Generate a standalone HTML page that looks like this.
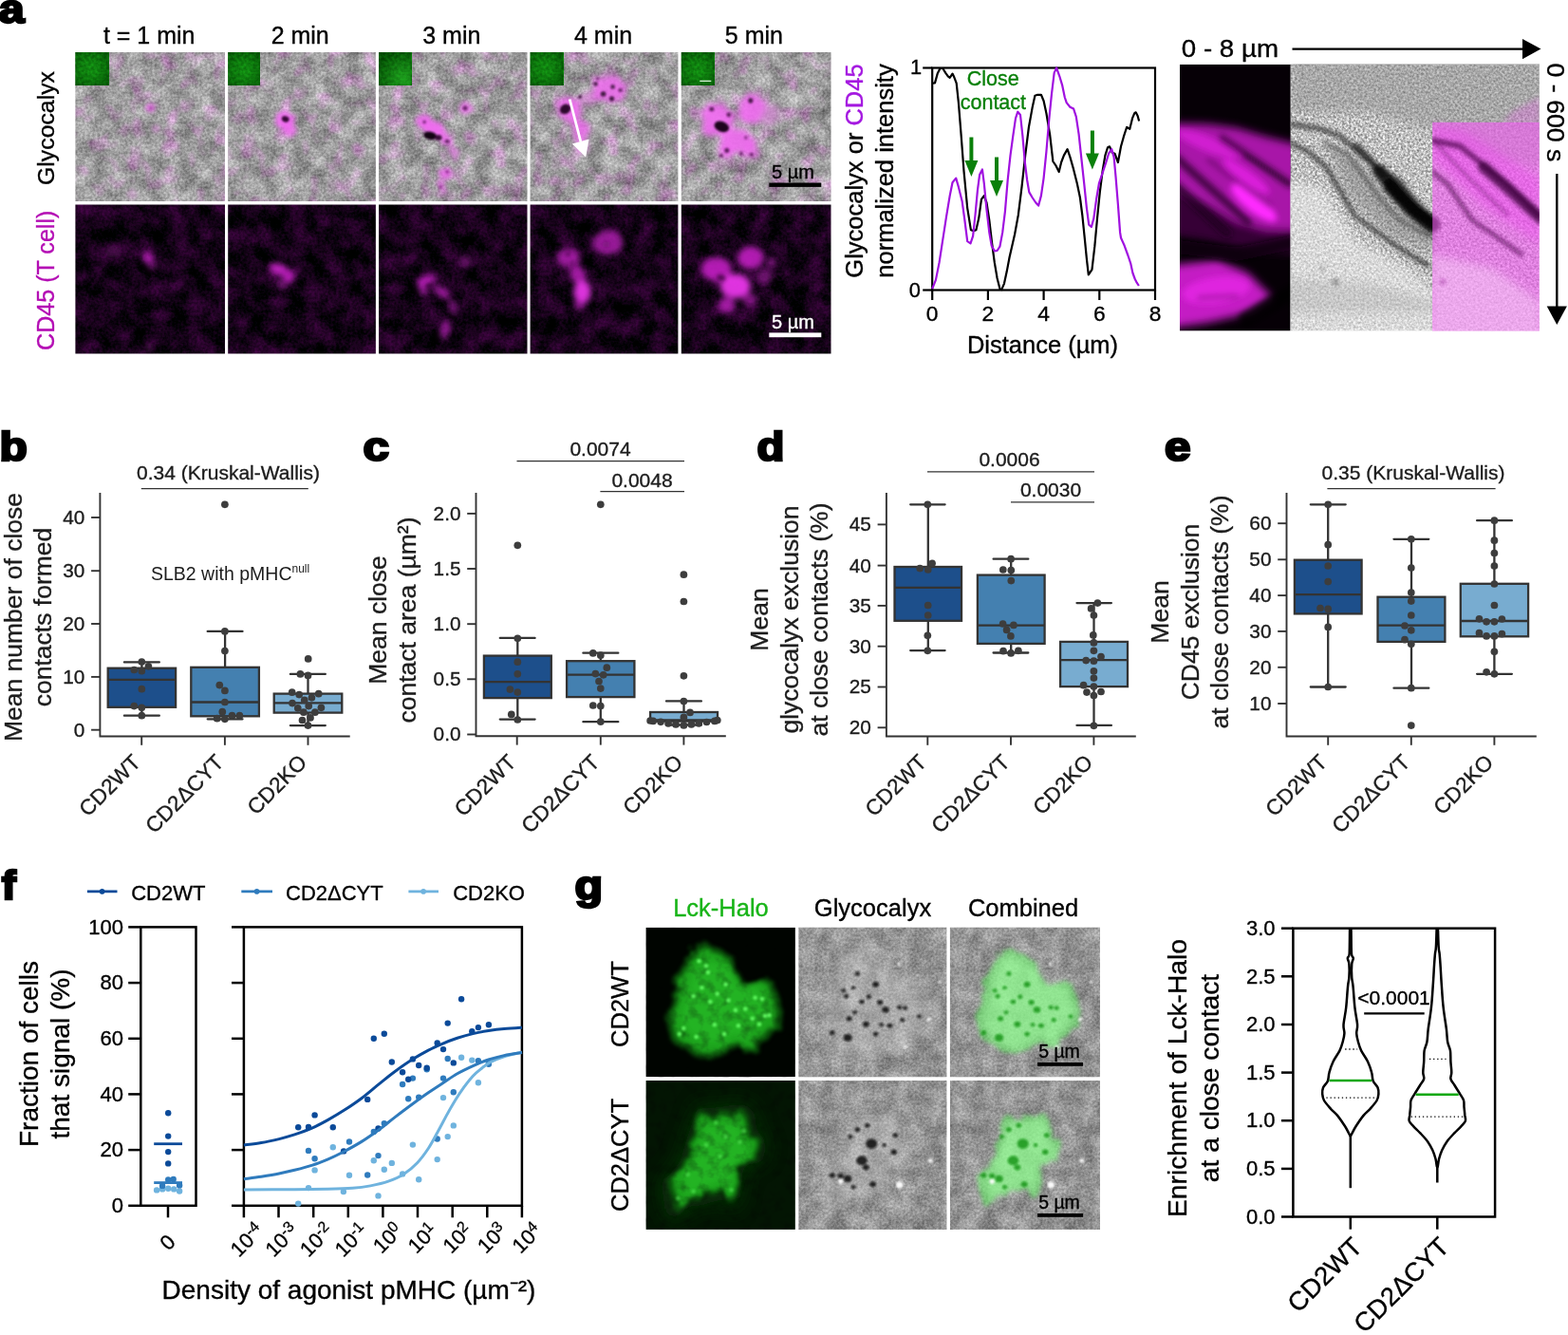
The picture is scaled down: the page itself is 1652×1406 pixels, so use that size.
<!DOCTYPE html>
<html lang="en"><head><meta charset="utf-8"><title>Figure</title>
<style>
html,body{margin:0;padding:0;background:#fff;}
body{width:1652px;height:1406px;overflow:hidden;}
svg{display:block;font-family:"Liberation Sans",Arial,Helvetica,sans-serif;}
</style></head><body>
<svg width="1652" height="1406" viewBox="0 0 1652 1406">
<rect width="1652" height="1406" fill="#fff"/>
<defs>
<filter id="ngray" x="0" y="0" width="100%" height="100%" color-interpolation-filters="sRGB">
  <feTurbulence type="fractalNoise" baseFrequency="0.055" numOctaves="2" seed="7" result="a0"/>
  <feColorMatrix in="a0" type="matrix" values="1 0 0 0 0  0 1 0 0 0  0 0 0 0 0  0 0 0 0 1" result="a"/>
  <feTurbulence type="fractalNoise" baseFrequency="0.38" numOctaves="2" seed="8" result="b0"/>
  <feColorMatrix in="b0" type="matrix" values="1 0 0 0 0  0 0 0 0 0.5  0 0 0 0 0  0 0 0 0 1" result="b"/>
  <feComposite in="a" in2="b" operator="arithmetic" k1="0" k2="0.55" k3="0.45" k4="0" result="n"/>
  <feColorMatrix in="n" type="matrix" values="0.85 0 0 0 0.19  0 1.6 0 0 -0.8  0 0 0 0 0  0 0 0 0 1" result="m"/>
  <feColorMatrix in="m" type="matrix" values="1 0.4 0 0 0  1 -0.22 0 0 0  1 0.4 0 0 0  0 0 0 0 1"/>
</filter>
<filter id="ndark" x="0" y="0" width="100%" height="100%" color-interpolation-filters="sRGB">
  <feTurbulence type="fractalNoise" baseFrequency="0.05" numOctaves="2" seed="5" result="a0"/>
  <feColorMatrix in="a0" type="matrix" values="1 0 0 0 0  0 0 0 0 0  0 0 0 0 0  0 0 0 0 1" result="a"/>
  <feTurbulence type="fractalNoise" baseFrequency="0.35" numOctaves="2" seed="6" result="b0"/>
  <feColorMatrix in="b0" type="matrix" values="1 0 0 0 0  0 0 0 0 0  0 0 0 0 0  0 0 0 0 1" result="b"/>
  <feComposite in="a" in2="b" operator="arithmetic" k1="0" k2="0.65" k3="0.35" k4="0" result="n"/>
  <feColorMatrix in="n" type="matrix" values="0.62 0 0 0 -0.225  0.03 0 0 0 -0.005  0.62 0 0 0 -0.215  0 0 0 0 1"/>
</filter>
<filter id="ngreen" x="0" y="0" width="100%" height="100%" color-interpolation-filters="sRGB">
  <feTurbulence type="fractalNoise" baseFrequency="0.3" numOctaves="2" seed="2"/>
  <feColorMatrix type="matrix" values="0.1 0 0 0 -0.03  0.45 0 0 0 0.22  0.1 0 0 0 -0.03  0 0 0 0 1"/>
</filter>
<filter id="ngray2" x="0" y="0" width="100%" height="100%" color-interpolation-filters="sRGB">
  <feTurbulence type="fractalNoise" baseFrequency="0.06" numOctaves="2" seed="17" result="a0"/>
  <feColorMatrix in="a0" type="matrix" values="1 0 0 0 0  0 0 0 0 0  0 0 0 0 0  0 0 0 0 1" result="a"/>
  <feTurbulence type="fractalNoise" baseFrequency="0.4" numOctaves="2" seed="18" result="b0"/>
  <feColorMatrix in="b0" type="matrix" values="1 0 0 0 0  0 0 0 0 0  0 0 0 0 0  0 0 0 0 1" result="b"/>
  <feComposite in="a" in2="b" operator="arithmetic" k1="0" k2="0.5" k3="0.5" k4="0" result="n"/>
  <feColorMatrix in="n" type="matrix" values="0.85 0 0 0 0.145  0.85 0 0 0 0.145  0.85 0 0 0 0.145  0 0 0 0 1"/>
</filter>
<filter id="ngtex" x="0" y="0" width="100%" height="100%" color-interpolation-filters="sRGB">
  <feTurbulence type="fractalNoise" baseFrequency="0.09" numOctaves="3" seed="31"/>
  <feColorMatrix type="matrix" values="1.4 0 0 0 0.2  1.4 0 0 0 0.2  1.4 0 0 0 0.2  0 0 0 0 1"/>
</filter>
<filter id="b9" x="-50%" y="-50%" width="200%" height="200%"><feGaussianBlur stdDeviation="9"/></filter>
<linearGradient id="vband" x1="0" x2="1" y1="0" y2="0">
  <stop offset="0" stop-color="#888" stop-opacity="0.5"/><stop offset="0.12" stop-color="#bbb" stop-opacity="0.4"/>
  <stop offset="0.25" stop-color="#808080" stop-opacity="0.5"/><stop offset="0.4" stop-color="#c0c0c0" stop-opacity="0.4"/>
  <stop offset="0.55" stop-color="#909090" stop-opacity="0.4"/><stop offset="0.7" stop-color="#c0c0c0" stop-opacity="0.4"/>
  <stop offset="0.85" stop-color="#808080" stop-opacity="0.5"/><stop offset="1" stop-color="#aaa" stop-opacity="0.4"/>
</linearGradient>
<filter id="nkym" x="0" y="0" width="100%" height="100%" color-interpolation-filters="sRGB">
  <feTurbulence type="fractalNoise" baseFrequency="0.42" numOctaves="2" seed="21"/>
  <feColorMatrix type="matrix" values="0.9 0 0 0 0.30  0.9 0 0 0 0.30  0.9 0 0 0 0.30  0 0 0 0 1"/>
</filter>
<radialGradient id="ginset0" cx="0.45" cy="0.5" r="0.75"><stop offset="0" stop-color="#30d030" stop-opacity="0.28"/><stop offset="1" stop-color="#002000" stop-opacity="0.45"/></radialGradient>
<radialGradient id="ginset1" cx="0.5" cy="0.55" r="0.75"><stop offset="0" stop-color="#30d030" stop-opacity="0.28"/><stop offset="1" stop-color="#002000" stop-opacity="0.45"/></radialGradient>
<radialGradient id="ginset2" cx="0.75" cy="0.8" r="0.9"><stop offset="0" stop-color="#40e040" stop-opacity="0.4"/><stop offset="1" stop-color="#002000" stop-opacity="0.45"/></radialGradient>
<filter id="r2" x="-40%" y="-40%" width="180%" height="180%" color-interpolation-filters="sRGB">
  <feTurbulence type="fractalNoise" baseFrequency="0.12" numOctaves="2" seed="9" result="t"/>
  <feDisplacementMap in="SourceGraphic" in2="t" scale="9" xChannelSelector="R" yChannelSelector="G"/>
  <feGaussianBlur stdDeviation="2.4"/>
  <feOffset dx="0.8" dy="0.4"/>
</filter>
<filter id="r3" x="-40%" y="-40%" width="180%" height="180%" color-interpolation-filters="sRGB">
  <feTurbulence type="fractalNoise" baseFrequency="0.09" numOctaves="2" seed="4" result="t"/>
  <feDisplacementMap in="SourceGraphic" in2="t" scale="12" xChannelSelector="R" yChannelSelector="G"/>
  <feGaussianBlur stdDeviation="3.2"/>
  <feOffset dx="0.5" dy="0.7"/>
</filter>
<filter id="b1" x="-50%" y="-50%" width="200%" height="200%"><feGaussianBlur stdDeviation="1.3"/></filter>
<filter id="b2" x="-30%" y="-30%" width="160%" height="160%"><feGaussianBlur stdDeviation="2"/></filter>
<filter id="b3" x="-30%" y="-30%" width="160%" height="160%"><feGaussianBlur stdDeviation="3"/></filter>
<filter id="b5" x="-30%" y="-30%" width="160%" height="160%"><feGaussianBlur stdDeviation="5"/></filter>
<filter id="rough3" x="-30%" y="-30%" width="160%" height="160%" color-interpolation-filters="sRGB">
  <feTurbulence type="fractalNoise" baseFrequency="0.08" numOctaves="2" seed="4" result="t"/>
  <feDisplacementMap in="SourceGraphic" in2="t" scale="14" xChannelSelector="R" yChannelSelector="G"/>
  <feGaussianBlur stdDeviation="2.2"/>
</filter>
<filter id="rough2" x="-30%" y="-30%" width="160%" height="160%" color-interpolation-filters="sRGB">
  <feTurbulence type="fractalNoise" baseFrequency="0.1" numOctaves="2" seed="9" result="t"/>
  <feDisplacementMap in="SourceGraphic" in2="t" scale="10" xChannelSelector="R" yChannelSelector="G"/>
  <feGaussianBlur stdDeviation="1.4"/>
</filter>
</defs>
<g id="panel-a">
<text transform="translate(-1.2 23.7) scale(1.1 0.95)" font-size="44" font-weight="bold" stroke="#000" stroke-width="2.6" stroke-linejoin="miter">a</text>
<text font-size="25" text-anchor="middle" stroke="#000" stroke-width="0.35" x="157.2" y="46">t = 1 min</text>
<text font-size="25" text-anchor="middle" stroke="#000" stroke-width="0.35" x="316.2" y="46">2 min</text>
<text font-size="25" text-anchor="middle" stroke="#000" stroke-width="0.35" x="475.8" y="46">3 min</text>
<text font-size="25" text-anchor="middle" stroke="#000" stroke-width="0.35" x="635.6" y="46">4 min</text>
<text font-size="25" text-anchor="middle" stroke="#000" stroke-width="0.35" x="794.4" y="46">5 min</text>
<text font-size="24.8" text-anchor="middle" stroke="#000" stroke-width="0.35" transform="translate(56.7 135) rotate(-90)">Glycocalyx</text>
<text font-size="25.1" text-anchor="middle" fill="#b40eb4" stroke="#b40eb4" stroke-width="0.35" transform="translate(56.7 295.3) rotate(-90)">CD45 (T cell)</text>
<svg x="79.4" y="54.9" width="157.6" height="157.2" viewBox="0 0 157.6 157.2" overflow="hidden">
<rect x="0" y="0" width="327.6" height="217.2" transform="translate(0 0)" filter="url(#ngray)"/>
<g filter="url(#b2)" ><ellipse cx="79" cy="58.6" rx="5.5" ry="5" fill="#e868e8" opacity="0.75"/><ellipse cx="85" cy="80.7" rx="4.5" ry="4" fill="#e888e8" opacity="0.5"/><ellipse cx="60" cy="150" rx="5" ry="5" fill="#e090e0" opacity="0.4"/><ellipse cx="150" cy="52" rx="5" ry="4" fill="#666" opacity="0.45"/></g><g filter="url(#b1)" ><ellipse cx="79.5" cy="59" rx="1.8" ry="1.5" fill="#903090" opacity="0.7"/></g>
<rect x="0" y="0" width="35.1" height="35" filter="url(#ngreen)"/>
<rect x="0" y="0" width="35.1" height="35" fill="url(#ginset0)"/>
</svg>
<svg x="79.4" y="215.4" width="157.6" height="157.2" viewBox="0 0 157.6 157.2" overflow="hidden">
<rect x="0" y="0" width="327.6" height="217.2" transform="translate(0 0)" filter="url(#ndark)"/>
<g filter="url(#b3)" ><ellipse cx="76.5" cy="56" rx="5.5" ry="7" fill="#cc22cc" opacity="0.8" transform="rotate(-30 76.5 56)"/><ellipse cx="81" cy="65" rx="4" ry="4" fill="#cc22cc" opacity="0.5"/><ellipse cx="40" cy="50" rx="9" ry="7" fill="#701070" opacity="0.35"/><ellipse cx="78" cy="150" rx="5" ry="6" fill="#801080" opacity="0.45"/></g>
</svg>
<svg x="240.2" y="54.9" width="155.7" height="157.2" viewBox="0 0 155.7 157.2" overflow="hidden">
<rect x="0" y="0" width="325.7" height="217.2" transform="translate(-41 -13)" filter="url(#ngray)"/>
<g filter="url(#r2)" ><ellipse cx="59" cy="72" rx="11" ry="10" fill="#f26cf2" opacity="0.95"/><ellipse cx="64" cy="81" rx="6.5" ry="6.5" fill="#f26cf2" opacity="0.8"/><ellipse cx="52" cy="70" rx="5" ry="5" fill="#f080f0" opacity="0.6"/></g><g filter="url(#b1)" ><ellipse cx="60.5" cy="70.5" rx="4" ry="3.2" fill="#2a002a" opacity="0.95" transform="rotate(20 60.5 70.5)"/></g>
<rect x="0" y="0" width="33.6" height="35" filter="url(#ngreen)"/>
<rect x="0" y="0" width="33.6" height="35" fill="url(#ginset1)"/>
</svg>
<svg x="240.2" y="215.4" width="155.7" height="157.2" viewBox="0 0 155.7 157.2" overflow="hidden">
<rect x="0" y="0" width="325.7" height="217.2" transform="translate(-37 -14)" filter="url(#ndark)"/>
<g filter="url(#b3)" ><ellipse cx="53" cy="68" rx="10" ry="6" fill="#cc22cc" opacity="0.9" transform="rotate(15 53 68)"/><ellipse cx="64" cy="76" rx="6" ry="7" fill="#cc22cc" opacity="0.85"/><ellipse cx="57" cy="84" rx="5" ry="6" fill="#a020a0" opacity="0.6"/></g>
</svg>
<svg x="399.1" y="54.9" width="156.4" height="157.2" viewBox="0 0 156.4 157.2" overflow="hidden">
<rect x="0" y="0" width="326.4" height="217.2" transform="translate(-82 -26)" filter="url(#ngray)"/>
<g filter="url(#r2)" ><ellipse cx="55" cy="80" rx="14" ry="9" fill="#f26cf2" opacity="0.95" transform="rotate(25 55 80)"/><ellipse cx="46" cy="72" rx="8" ry="7" fill="#f26cf2" opacity="0.85"/><ellipse cx="70" cy="93" rx="7" ry="6" fill="#f26cf2" opacity="0.85" transform="rotate(50 70 93)"/><ellipse cx="79" cy="106" rx="4" ry="9" fill="#f080f0" opacity="0.7" transform="rotate(-15 79 106)"/><ellipse cx="69" cy="128" rx="5.5" ry="7" fill="#f26cf2" opacity="0.85"/><ellipse cx="65" cy="141" rx="4.5" ry="5" fill="#f26cf2" opacity="0.8"/><ellipse cx="91" cy="59" rx="7" ry="7" fill="#ee70ee" opacity="0.8"/></g><g filter="url(#b1)" ><ellipse cx="54" cy="88" rx="7" ry="4.2" fill="#120012" opacity="0.97" transform="rotate(10 54 88)"/><ellipse cx="63" cy="90" rx="3.5" ry="3" fill="#2a002a" opacity="0.9"/><ellipse cx="72" cy="94" rx="2.5" ry="2.2" fill="#501050" opacity="0.8"/><ellipse cx="91" cy="59" rx="2.6" ry="2.4" fill="#5a105a" opacity="0.85"/><ellipse cx="48" cy="73.5" rx="2" ry="2" fill="#702070" opacity="0.8"/><ellipse cx="72" cy="126" rx="2" ry="2" fill="#802080" opacity="0.7"/><ellipse cx="65" cy="142" rx="1.8" ry="1.8" fill="#802080" opacity="0.7"/></g>
<rect x="0" y="0" width="34.2" height="35" filter="url(#ngreen)"/>
<rect x="0" y="0" width="34.2" height="35" fill="url(#ginset2)"/>
</svg>
<svg x="399.1" y="215.4" width="156.4" height="157.2" viewBox="0 0 156.4 157.2" overflow="hidden">
<rect x="0" y="0" width="326.4" height="217.2" transform="translate(-74 -28)" filter="url(#ndark)"/>
<g filter="url(#b3)" ><ellipse cx="50" cy="80" rx="11" ry="5" fill="#cc22cc" opacity="0.8" transform="rotate(-20 50 80)"/><ellipse cx="47" cy="88" rx="5" ry="8" fill="#cc22cc" opacity="0.65"/><ellipse cx="66" cy="92" rx="10" ry="4.5" fill="#cc22cc" opacity="0.75" transform="rotate(35 66 92)"/><ellipse cx="78" cy="108" rx="4" ry="9" fill="#cc22cc" opacity="0.6" transform="rotate(-15 78 108)"/><ellipse cx="70" cy="132" rx="5" ry="10" fill="#cc22cc" opacity="0.65" transform="rotate(15 70 132)"/><ellipse cx="91" cy="59.8" rx="6" ry="6" fill="#b020b0" opacity="0.6"/></g><g filter="url(#b2)" ><ellipse cx="53" cy="86" rx="4" ry="2.6" fill="#300030" opacity="0.8"/><ellipse cx="91" cy="60" rx="2" ry="2" fill="#400040" opacity="0.6"/></g>
</svg>
<svg x="558.6" y="54.9" width="155.8" height="157.2" viewBox="0 0 155.8 157.2" overflow="hidden">
<rect x="0" y="0" width="325.8" height="217.2" transform="translate(-123 -39)" filter="url(#ngray)"/>
<g filter="url(#r3)" ><ellipse cx="41" cy="60" rx="13" ry="13" fill="#f26cf2" opacity="0.9"/><ellipse cx="52" cy="82" rx="9" ry="13" fill="#f26cf2" opacity="0.8" transform="rotate(-15 52 82)"/><ellipse cx="54" cy="98" rx="8" ry="9" fill="#f080f0" opacity="0.65"/><ellipse cx="82" cy="38" rx="19" ry="14" fill="#f26cf2" opacity="0.85"/><ellipse cx="60" cy="48" rx="8" ry="7" fill="#f080f0" opacity="0.6"/></g><g filter="url(#b1)" ><ellipse cx="37" cy="60" rx="6" ry="5" fill="#1c001c" opacity="0.92" transform="rotate(-30 37 60)"/><ellipse cx="52.5" cy="47" rx="2.2" ry="2.2" fill="#401040" opacity="0.9"/><ellipse cx="69" cy="33.5" rx="2.4" ry="2.4" fill="#401040" opacity="0.85"/><ellipse cx="77" cy="44" rx="2.8" ry="2.6" fill="#300830" opacity="0.9"/><ellipse cx="86" cy="49" rx="2.6" ry="2.6" fill="#380838" opacity="0.9"/><ellipse cx="87" cy="36.5" rx="2.4" ry="2.4" fill="#401040" opacity="0.85"/><ellipse cx="95" cy="40" rx="2.2" ry="2.2" fill="#501050" opacity="0.8"/><ellipse cx="71" cy="28" rx="1.8" ry="1.8" fill="#602060" opacity="0.7"/></g>
<rect x="0" y="0" width="34.5" height="35" filter="url(#ngreen)"/>
<rect x="0" y="0" width="34.5" height="35" fill="url(#ginset0)"/>
</svg>
<svg x="558.6" y="215.4" width="155.8" height="157.2" viewBox="0 0 155.8 157.2" overflow="hidden">
<rect x="0" y="0" width="325.8" height="217.2" transform="translate(-111 -42)" filter="url(#ndark)"/>
<g filter="url(#b3)" ><ellipse cx="40" cy="56" rx="12" ry="10" fill="#cc22cc" opacity="0.75"/><ellipse cx="50" cy="74" rx="8" ry="10" fill="#cc22cc" opacity="0.75" transform="rotate(-20 50 74)"/><ellipse cx="55" cy="92" rx="9" ry="12" fill="#f038f0" opacity="0.9"/><ellipse cx="82" cy="40" rx="16" ry="13" fill="#cc22cc" opacity="0.7"/><ellipse cx="52" cy="106" rx="6" ry="6" fill="#cc22cc" opacity="0.6"/></g><g filter="url(#b2)" ><ellipse cx="40" cy="52" rx="2.6" ry="2.6" fill="#400040" opacity="0.75"/><ellipse cx="44" cy="62" rx="2.4" ry="2.4" fill="#400040" opacity="0.7"/><ellipse cx="80" cy="42" rx="4" ry="3.5" fill="#601060" opacity="0.55"/></g>
</svg>
<svg x="717.8" y="54.9" width="157.7" height="157.2" viewBox="0 0 157.7 157.2" overflow="hidden">
<rect x="0" y="0" width="327.7" height="217.2" transform="translate(-164 -52)" filter="url(#ngray)"/>
<g filter="url(#r3)" ><ellipse cx="38" cy="70" rx="19" ry="17" fill="#f26cf2" opacity="0.92"/><ellipse cx="73" cy="58" rx="14" ry="15" fill="#f26cf2" opacity="0.9"/><ellipse cx="57" cy="94" rx="19" ry="14" fill="#f26cf2" opacity="0.9"/><ellipse cx="92" cy="64" rx="10" ry="13" fill="#f090f0" opacity="0.6"/><ellipse cx="46" cy="104" rx="9" ry="8" fill="#f26cf2" opacity="0.75"/><ellipse cx="74" cy="104" rx="8" ry="8" fill="#f26cf2" opacity="0.75"/></g><g filter="url(#b1)" ><ellipse cx="42.5" cy="78.5" rx="8" ry="5.5" fill="#140014" opacity="0.97" transform="rotate(20 42.5 78.5)"/><ellipse cx="32" cy="60" rx="2.6" ry="2.4" fill="#501050" opacity="0.85"/><ellipse cx="50" cy="66" rx="2.4" ry="2.4" fill="#501050" opacity="0.85"/><ellipse cx="73" cy="51" rx="2.6" ry="2.8" fill="#401040" opacity="0.9"/><ellipse cx="48" cy="103.5" rx="2.6" ry="2.6" fill="#501050" opacity="0.85"/><ellipse cx="42" cy="109" rx="2.2" ry="2.2" fill="#601060" opacity="0.8"/><ellipse cx="63" cy="107" rx="2.2" ry="2.2" fill="#601060" opacity="0.8"/><ellipse cx="74" cy="108" rx="2.2" ry="2.2" fill="#601060" opacity="0.8"/><ellipse cx="68" cy="90" rx="2" ry="2" fill="#702070" opacity="0.7"/></g>
<rect x="0" y="0" width="34.5" height="35" filter="url(#ngreen)"/>
<rect x="0" y="0" width="34.5" height="35" fill="url(#ginset1)"/>
</svg>
<svg x="717.8" y="215.4" width="157.7" height="157.2" viewBox="0 0 157.7 157.2" overflow="hidden">
<rect x="0" y="0" width="327.7" height="217.2" transform="translate(-148 -56)" filter="url(#ndark)"/>
<g filter="url(#b3)" ><ellipse cx="37" cy="68" rx="16" ry="13" fill="#cc22cc" opacity="0.85"/><ellipse cx="73" cy="56" rx="14" ry="12" fill="#cc22cc" opacity="0.85"/><ellipse cx="57" cy="86" rx="16" ry="13" fill="#f038f0" opacity="0.92"/><ellipse cx="48" cy="106" rx="9" ry="8" fill="#cc22cc" opacity="0.75"/><ellipse cx="95" cy="61" rx="3.5" ry="5" fill="#cc22cc" opacity="0.8"/><ellipse cx="88" cy="76" rx="8" ry="8" fill="#b020b0" opacity="0.5"/><ellipse cx="72" cy="100" rx="8" ry="7" fill="#cc22cc" opacity="0.6"/></g><g filter="url(#b2)" ><ellipse cx="42" cy="77" rx="5" ry="3" fill="#300030" opacity="0.85" transform="rotate(15 42 77)"/></g>
</svg>
<rect x="810.3" y="192.5" width="55" height="4.4" fill="#000" />
<text font-size="20" text-anchor="middle" stroke="#000" stroke-width="0.35" x="835.5" y="187.8">5 µm</text>
<rect x="810.3" y="350.4" width="55" height="4.8" fill="#fff" />
<text font-size="20" text-anchor="middle" fill="#fff" stroke="#fff" stroke-width="0.35" x="835.5" y="346.1">5 µm</text>
<rect x="737.3" y="84.7" width="12" height="1.3" fill="#d8f0d8" />
<path d="M600.2 104.5 L611.8 149" stroke="#fff" stroke-width="2.8" fill="none"/>
<path d="M617.2 165.5 L602.8 151.5 L620.6 146.6 Z" fill="#fff"/>
</g>
<g id="lineplot">
<rect x="982.2" y="71.5" width="234.79999999999995" height="234.0" fill="none" stroke="#000" stroke-width="2.2"/>
<line x1="982.2" y1="305.5" x2="982.2" y2="316.0" stroke="#000" stroke-width="2.2" />
<text font-size="22.8" text-anchor="middle" stroke="#000" stroke-width="0.35" x="982.2" y="337.6">0</text>
<line x1="1040.9" y1="305.5" x2="1040.9" y2="316.0" stroke="#000" stroke-width="2.2" />
<text font-size="22.8" text-anchor="middle" stroke="#000" stroke-width="0.35" x="1040.9" y="337.6">2</text>
<line x1="1099.6" y1="305.5" x2="1099.6" y2="316.0" stroke="#000" stroke-width="2.2" />
<text font-size="22.8" text-anchor="middle" stroke="#000" stroke-width="0.35" x="1099.6" y="337.6">4</text>
<line x1="1158.3" y1="305.5" x2="1158.3" y2="316.0" stroke="#000" stroke-width="2.2" />
<text font-size="22.8" text-anchor="middle" stroke="#000" stroke-width="0.35" x="1158.3" y="337.6">6</text>
<line x1="1217.0" y1="305.5" x2="1217.0" y2="316.0" stroke="#000" stroke-width="2.2" />
<text font-size="22.8" text-anchor="middle" stroke="#000" stroke-width="0.35" x="1217.0" y="337.6">8</text>
<line x1="972.2" y1="71.5" x2="982.2" y2="71.5" stroke="#000" stroke-width="2.2" />
<line x1="972.2" y1="305.5" x2="982.2" y2="305.5" stroke="#000" stroke-width="2.2" />
<text font-size="21.8" text-anchor="end" stroke="#000" stroke-width="0.35" x="971.0" y="77.9">1</text>
<text font-size="21.8" text-anchor="end" stroke="#000" stroke-width="0.35" x="969.8" y="312.8">0</text>
<text font-size="25.5" text-anchor="middle" stroke="#000" stroke-width="0.35" x="1098.5" y="372">Distance (µm)</text>
<text transform="translate(909 180) rotate(-90)" font-size="25.5" text-anchor="middle" stroke="#000" stroke-width="0.35">Glycocalyx or <tspan fill="#a418e0" stroke="#a418e0">CD45</tspan></text>
<text font-size="25.5" text-anchor="middle" stroke="#000" stroke-width="0.35" transform="translate(940.5 180) rotate(-90)">normalized intensity</text>
<path d="M982.2 87.7 L985.0 87.4 L987.7 77.6 L990.5 72.0 L993.3 72.0 L996.1 76.6 L998.8 80.3 L1000.7 81.8 L1003.5 77.6 L1005.3 81.3 L1007.7 87.7 L1009.9 108.1 L1012.7 143.2 L1015.5 180.2 L1019.2 219.1 L1022.9 242.2 L1025.7 243.1 L1028.4 242.2 L1031.2 230.1 L1034.0 209.8 L1036.8 206.1 L1039.5 213.5 L1042.3 232.0 L1045.1 256.0 L1047.8 276.4 L1050.6 293.0 L1053.4 304.1 L1055.2 305.1 L1058.0 298.6 L1060.8 285.6 L1063.6 270.8 L1069.1 246.8 L1072.8 226.5 L1076.5 196.9 L1080.2 163.6 L1083.9 134.0 L1087.6 113.6 L1090.4 100.7 L1093.2 99.8 L1096.9 99.8 L1099.6 106.2 L1102.4 119.2 L1106.1 141.4 L1109.4 170.0 L1112.6 174.7 L1115.7 181.1 L1118.1 171.0 L1120.9 163.6 L1124.6 157.1 L1127.4 165.4 L1131.1 178.4 L1134.8 193.2 L1137.9 208.0 L1140.3 226.5 L1143.1 254.2 L1144.9 272.7 L1146.8 289.3 L1150.5 283.8 L1153.3 259.7 L1156.0 230.1 L1158.8 202.4 L1161.6 180.2 L1164.4 163.6 L1167.1 155.2 L1169.0 154.3 L1171.8 160.8 L1174.5 161.7 L1177.9 171.0 L1181.0 154.3 L1183.8 144.2 L1187.1 134.0 L1190.3 135.8 L1193.0 124.7 L1195.3 119.2 L1196.7 118.3 L1198.6 122.0 L1200.1 127.5" fill="none" stroke="#000" stroke-width="2.2" stroke-linejoin="round" />
<path d="M982.2 304.1 L985.9 294.9 L989.6 276.4 L993.3 252.3 L997.0 228.3 L1000.7 206.1 L1003.5 192.2 L1007.2 187.6 L1009.9 196.9 L1013.6 211.7 L1016.4 232.0 L1019.2 254.2 L1022.5 256.4 L1025.1 248.6 L1027.5 226.5 L1029.9 200.6 L1032.1 183.9 L1034.9 178.4 L1036.8 193.2 L1039.5 220.9 L1042.3 244.9 L1044.7 258.8 L1047.8 264.4 L1050.6 264.0 L1053.4 259.7 L1056.2 244.9 L1058.9 222.8 L1061.7 189.5 L1064.5 163.6 L1067.3 143.2 L1070.0 124.7 L1072.3 117.7 L1075.0 121.0 L1077.4 143.2 L1079.8 171.0 L1082.1 189.5 L1084.3 202.4 L1087.6 208.0 L1091.3 213.5 L1094.1 216.6 L1096.9 206.1 L1099.6 187.6 L1102.4 159.9 L1105.2 126.6 L1108.0 98.8 L1110.7 76.6 L1113.1 71.5 L1116.3 80.3 L1119.1 89.6 L1121.8 102.5 L1123.7 108.1 L1127.4 112.7 L1131.1 114.6 L1133.8 122.9 L1136.6 141.4 L1139.4 167.3 L1142.2 193.2 L1144.9 219.1 L1147.2 236.6 L1149.9 239.0 L1152.3 230.1 L1155.1 209.8 L1157.9 193.2 L1161.6 182.1 L1165.3 171.0 L1168.1 161.7 L1171.2 157.1 L1173.6 165.4 L1175.5 185.8 L1177.9 215.4 L1180.1 244.9 L1181.0 250.5 L1184.7 258.8 L1188.4 269.0 L1191.2 277.3 L1193.4 287.5 L1195.8 294.0 L1197.7 297.7 L1199.9 301.0" fill="none" stroke="#a010e0" stroke-width="2.2" stroke-linejoin="round" />
<text font-size="21.5" text-anchor="middle" fill="#0a800a" stroke="#0a800a" stroke-width="0.35" x="1046.2" y="89.8">Close</text>
<text font-size="21.5" text-anchor="middle" fill="#0a800a" stroke="#0a800a" stroke-width="0.35" x="1046.4" y="115.3">contact</text>
<path d="M1023.4 144.5 V170" stroke="#0a800a" stroke-width="4" fill="none"/><path d="M1016.4 169 H1030.4 L1023.4 186 Z" fill="#0a800a"/>
<path d="M1050.0 165.5 V191" stroke="#0a800a" stroke-width="4" fill="none"/><path d="M1043.0 190 H1057.0 L1050.0 207 Z" fill="#0a800a"/>
<path d="M1150.9 137.5 V162.5" stroke="#0a800a" stroke-width="4" fill="none"/><path d="M1143.9 161.5 H1157.9 L1150.9 178.5 Z" fill="#0a800a"/>
</g>
<g id="kymo">
<text font-size="26.7" stroke="#000" stroke-width="0.35" textLength="102.2" lengthAdjust="spacingAndGlyphs" x="1244.8" y="60.3">0 - 8 µm</text>
<line x1="1361.5" y1="51.6" x2="1606" y2="51.6" stroke="#000" stroke-width="2.4" />
<path d="M1604 41 L1623.5 51.6 L1604 62.2 Z" fill="#000"/>
<text font-size="26.7" stroke="#000" stroke-width="0.35" transform="translate(1629.9 66.6) rotate(90)">0 - 600 s</text>
<line x1="1640.3" y1="183" x2="1640.3" y2="324" stroke="#000" stroke-width="2.4" />
<path d="M1629.7 322.5 L1640.3 342 L1650.9 322.5 Z" fill="#000"/>
<svg x="1243.0" y="67.8" width="378.8" height="280.8" viewBox="0 0 378.8 280.8" overflow="hidden">
<clipPath id="ck1"><rect x="0" y="0" width="116.8" height="280.8"/></clipPath>
<clipPath id="ck2"><rect x="116.8" y="0" width="262.0" height="280.8"/></clipPath>
<clipPath id="ck3"><rect x="266.2" y="0" width="112.60000000000002" height="280.8"/></clipPath>
<rect x="0" y="0" width="116.8" height="280.8" fill="#060006" />
<g clip-path="url(#ck1)"><g filter="url(#b5)"><path d="M-12 62 L30 63 L60 67 L90 76 L130 86 L130 176 L90 174 L60 166 L30 148 L-12 128 Z" fill="#a812a8"/><path d="M-12 128 L30 148 L60 166 L90 174 L130 178 L130 200 L70 196 L30 186 L-12 180 Z" fill="#3a033a" opacity="0.9"/><path d="M-12 212 L40 206 L72 220 L98 246 L74 262 L30 272 L-12 278 Z" fill="#c41ac4"/></g><g filter="url(#b3)" fill="none" stroke-linecap="round"><ellipse cx="78" cy="146" rx="30" ry="9" fill="#ff2cff" stroke="none" transform="rotate(38 78 146)"/><ellipse cx="70" cy="118" rx="30" ry="7" fill="#e422e4" stroke="none" opacity="0.85" transform="rotate(36 70 118)"/><ellipse cx="30" cy="84" rx="36" ry="8" fill="#d81cd8" stroke="none" opacity="0.85" transform="rotate(22 30 84)"/><ellipse cx="38" cy="238" rx="36" ry="14" fill="#e426e4" stroke="none" opacity="0.85" transform="rotate(-8 38 238)"/><path d="M44 78 L116 126" stroke="#1c001c" stroke-width="7" opacity="0.8"/><path d="M-4 98 L72 166" stroke="#260026" stroke-width="8" opacity="0.8"/><path d="M30 100 L96 150" stroke="#500850" stroke-width="3.5" opacity="0.7"/><path d="M-4 128 L50 178" stroke="#180018" stroke-width="9" opacity="0.75"/><path d="M-4 192 L60 200 L117 188" stroke="#080008" stroke-width="15" opacity="0.85"/><path d="M70 268 L117 240" stroke="#080008" stroke-width="16" opacity="0.8"/><path d="M20 246 L60 244" stroke="#701070" stroke-width="4" opacity="0.6"/></g></g>
<g clip-path="url(#ck2)">
<rect x="116.8" y="0" width="262.0" height="280.8" filter="url(#nkym)"/>
<g filter="url(#b5)"><path d="M117 -10 L390 -10 L390 110 L330 100 L270 70 L200 50 L117 50 Z" fill="#8c8c8c" opacity="0.45"/><path d="M110 120 L150 130 L185 185 L240 215 L270 240 L270 300 L110 300 Z" fill="#f4f4f4" opacity="0.5"/><path d="M110 225 L200 230 L270 250 L270 262 L110 262 Z" fill="#9a9a9a" opacity="0.28"/><path d="M150 80 L190 100 L230 150 L266 170 L266 200 L220 180 L180 140 Z" fill="#707070" opacity="0.4"/></g>
<g filter="url(#b2)" fill="none" stroke-linecap="round" stroke-linejoin="round"><path d="M117 63 L149 68 L169 75.5 L189 93 L207 108 L232 123 L247 143 L268 164" stroke="#2a2a2a" stroke-width="5" opacity="0.75"/><path d="M117 83 L134 91 L154 108 L169 133 L184 159 L207 176 L232 194 L262 212" stroke="#262626" stroke-width="4.5" opacity="0.8"/><path d="M154 83 L174 93 L194 118 L212 143 L232 164 L268 184" stroke="#3a3a3a" stroke-width="3.5" opacity="0.65"/><path d="M186 86 L200 100 L214 118" stroke="#1c1c1c" stroke-width="7" opacity="0.75"/><path d="M210 112 L232 138 L250 156 L268 168" stroke="#0a0a0a" stroke-width="14" opacity="0.88"/><path d="M222 128 L244 152 L266 170" stroke="#000" stroke-width="16" opacity="0.8"/><circle cx="164" cy="229" r="3" fill="#555" stroke="none" opacity="0.7"/><circle cx="150" cy="215" r="2.5" fill="#666" stroke="none" opacity="0.6"/></g>
</g>
<g clip-path="url(#ck3)">
<path d="M266 61 L380 61 L380 290 L266 290 Z" fill="#f45cf4" opacity="0.62"/><path d="M350 50 L380 34 L380 62 L340 62 Z" fill="#f45cf4" opacity="0.3" filter="url(#b3)"/>
<g filter="url(#b5)"><path d="M266 200 L330 215 L380 250 L380 290 L266 290 Z" fill="#fbd8fb" opacity="0.45"/><path d="M266 100 L320 150 L380 190 L380 120 L300 70 L266 64 Z" fill="#f040f0" opacity="0.35"/></g>
<g filter="url(#b2)" fill="none" stroke-linecap="round" stroke-linejoin="round"><path d="M266 80 L295 86 L320 106 L345 126 L380 160" stroke="#4a064a" stroke-width="6" opacity="0.75"/><path d="M320 108 L345 130 L380 162" stroke="#3a003a" stroke-width="12" opacity="0.75"/><path d="M266 113 L282 126 L308 164 L333 181 L360 200" stroke="#5a0a5a" stroke-width="4.5" opacity="0.75"/><path d="M270 84 L308 123 L345 158" stroke="#701870" stroke-width="3" opacity="0.6"/><circle cx="277" cy="229" r="2.6" fill="#902090" stroke="none" opacity="0.7"/></g>
</g>
</svg>
</g>
<g id="panel-b">
<line x1="149.4" y1="697.4" x2="149.4" y2="753.7" stroke="#333333" stroke-width="2.3" />
<line x1="130.9" y1="697.4" x2="167.8" y2="697.4" stroke="#333333" stroke-width="2.3" stroke-linecap="round"/>
<line x1="130.9" y1="753.7" x2="167.8" y2="753.7" stroke="#333333" stroke-width="2.3" stroke-linecap="round"/>
<rect x="113.7" y="703.7" width="71.4" height="41.1" fill="#1d4f8b" stroke="#333333" stroke-width="2.3"/>
<line x1="113.7" y1="715.8" x2="185.1" y2="715.8" stroke="#333333" stroke-width="2.3" />
<line x1="237.1" y1="664.9" x2="237.1" y2="757.3" stroke="#333333" stroke-width="2.3" />
<line x1="218.7" y1="664.9" x2="255.5" y2="664.9" stroke="#333333" stroke-width="2.3" stroke-linecap="round"/>
<line x1="218.7" y1="757.3" x2="255.5" y2="757.3" stroke="#333333" stroke-width="2.3" stroke-linecap="round"/>
<rect x="201.3" y="702.8" width="71.6" height="51.5" fill="#4480b0" stroke="#333333" stroke-width="2.3"/>
<line x1="201.3" y1="739.5" x2="272.9" y2="739.5" stroke="#333333" stroke-width="2.3" />
<line x1="324.5" y1="709.9" x2="324.5" y2="764.1" stroke="#333333" stroke-width="2.3" />
<line x1="305.9" y1="709.9" x2="342.8" y2="709.9" stroke="#333333" stroke-width="2.3" stroke-linecap="round"/>
<line x1="305.9" y1="764.1" x2="342.8" y2="764.1" stroke="#333333" stroke-width="2.3" stroke-linecap="round"/>
<rect x="288.7" y="730.6" width="71.6" height="20.0" fill="#78acd0" stroke="#333333" stroke-width="2.3"/>
<line x1="288.7" y1="740.4" x2="360.3" y2="740.4" stroke="#333333" stroke-width="2.3" />
<g fill="#3d3d3d"><circle cx="149.3" cy="697.0" r="3.85"/><circle cx="156.4" cy="701.8" r="3.85"/><circle cx="141.3" cy="705.5" r="3.85"/><circle cx="149.3" cy="706.7" r="3.85"/><circle cx="149.3" cy="725.7" r="3.85"/><circle cx="141.3" cy="743.6" r="3.85"/><circle cx="149.3" cy="745.3" r="3.85"/><circle cx="149.3" cy="753.7" r="3.85"/><circle cx="236.9" cy="664.9" r="3.85"/><circle cx="236.9" cy="685.6" r="3.85"/><circle cx="231.3" cy="721.6" r="3.85"/><circle cx="236.9" cy="727.4" r="3.85"/><circle cx="236.9" cy="739.5" r="3.85"/><circle cx="234.3" cy="749.7" r="3.85"/><circle cx="244.5" cy="753.7" r="3.85"/><circle cx="252.5" cy="753.7" r="3.85"/><circle cx="228.7" cy="756.7" r="3.85"/><circle cx="236.9" cy="757.3" r="3.85"/><circle cx="324.7" cy="693.9" r="3.85"/><circle cx="316.4" cy="709.9" r="3.85"/><circle cx="324.5" cy="711.4" r="3.85"/><circle cx="307.7" cy="729.2" r="3.85"/><circle cx="315.2" cy="731.6" r="3.85"/><circle cx="335.7" cy="730.7" r="3.85"/><circle cx="328.4" cy="734.8" r="3.85"/><circle cx="320.8" cy="737.4" r="3.85"/><circle cx="308.0" cy="740.6" r="3.85"/><circle cx="325.2" cy="743.6" r="3.85"/><circle cx="313.8" cy="745.8" r="3.85"/><circle cx="338.4" cy="745.3" r="3.85"/><circle cx="319.9" cy="750.2" r="3.85"/><circle cx="331.9" cy="750.2" r="3.85"/><circle cx="327.0" cy="755.9" r="3.85"/><circle cx="318.5" cy="758.5" r="3.85"/><circle cx="324.5" cy="764.1" r="3.85"/><circle cx="236.9" cy="531.3" r="3.85"/></g>
<path d="M105.4 519.1 V775.5 H368.7" fill="none" stroke="#333333" stroke-width="1.9" stroke-linejoin="miter"/>
<line x1="96.10000000000001" y1="768.7" x2="105.4" y2="768.7" stroke="#333333" stroke-width="1.9" />
<text font-size="20.8" text-anchor="end" fill="#1c1c1c" stroke="#1c1c1c" stroke-width="0.35" x="89.4" y="775.6">0</text>
<line x1="96.10000000000001" y1="712.9" x2="105.4" y2="712.9" stroke="#333333" stroke-width="1.9" />
<text font-size="20.8" text-anchor="end" fill="#1c1c1c" stroke="#1c1c1c" stroke-width="0.35" x="89.4" y="719.8">10</text>
<line x1="96.10000000000001" y1="657.0" x2="105.4" y2="657.0" stroke="#333333" stroke-width="1.9" />
<text font-size="20.8" text-anchor="end" fill="#1c1c1c" stroke="#1c1c1c" stroke-width="0.35" x="89.4" y="663.9">20</text>
<line x1="96.10000000000001" y1="601.2" x2="105.4" y2="601.2" stroke="#333333" stroke-width="1.9" />
<text font-size="20.8" text-anchor="end" fill="#1c1c1c" stroke="#1c1c1c" stroke-width="0.35" x="89.4" y="608.1">30</text>
<line x1="96.10000000000001" y1="545.0" x2="105.4" y2="545.0" stroke="#333333" stroke-width="1.9" />
<text font-size="20.8" text-anchor="end" fill="#1c1c1c" stroke="#1c1c1c" stroke-width="0.35" x="89.4" y="551.9">40</text>
<line x1="149.2" y1="775.5" x2="149.2" y2="784.8" stroke="#333333" stroke-width="1.9" />
<text font-size="22.6" text-anchor="end" fill="#1c1c1c" stroke="#1c1c1c" stroke-width="0.35" transform="translate(149.4 804.2) rotate(-45)">CD2WT</text>
<line x1="236.9" y1="775.5" x2="236.9" y2="784.8" stroke="#333333" stroke-width="1.9" />
<text font-size="22.6" text-anchor="end" fill="#1c1c1c" stroke="#1c1c1c" stroke-width="0.35" transform="translate(237.1 804.2) rotate(-45)">CD2ΔCYT</text>
<line x1="324.5" y1="775.5" x2="324.5" y2="784.8" stroke="#333333" stroke-width="1.9" />
<text font-size="22.6" text-anchor="end" fill="#1c1c1c" stroke="#1c1c1c" stroke-width="0.35" transform="translate(324.7 804.2) rotate(-45)">CD2KO</text>
<line x1="148.8" y1="514.6" x2="324.8" y2="514.6" stroke="#333333" stroke-width="1.3" />
<text font-size="21" text-anchor="middle" fill="#1c1c1c" stroke="#1c1c1c" stroke-width="0.35" x="240.5" y="505.4">0.34 (Kruskal-Wallis)</text>
<text font-size="26.5" text-anchor="middle" fill="#1c1c1c" stroke="#1c1c1c" stroke-width="0.35" transform="translate(22.5 650) rotate(-90)">Mean number of close</text>
<text font-size="26.5" text-anchor="middle" fill="#1c1c1c" stroke="#1c1c1c" stroke-width="0.35" transform="translate(54.0 650) rotate(-90)">contacts formed</text>
<text x="159" y="610.8" font-size="19.5" fill="#1c1c1c">SLB2 with pMHC<tspan font-size="12" dy="-7.5">null</tspan></text>
<text transform="translate(-0.5 485.3) scale(1.09 0.95)" font-size="44" font-weight="bold" stroke="#000" stroke-width="2.6" stroke-linejoin="miter">b</text>
</g>
<g id="panel-c">
<line x1="545.3" y1="671.9" x2="545.3" y2="757.6" stroke="#333333" stroke-width="2.3" />
<line x1="526.8" y1="671.9" x2="563.6" y2="671.9" stroke="#333333" stroke-width="2.3" stroke-linecap="round"/>
<line x1="526.8" y1="757.6" x2="563.6" y2="757.6" stroke="#333333" stroke-width="2.3" stroke-linecap="round"/>
<rect x="509.9" y="690.6" width="70.9" height="44.5" fill="#1d4f8b" stroke="#333333" stroke-width="2.3"/>
<line x1="509.9" y1="718.1" x2="580.8" y2="718.1" stroke="#333333" stroke-width="2.3" />
<line x1="632.8" y1="687.7" x2="632.8" y2="760.2" stroke="#333333" stroke-width="2.3" />
<line x1="614.4" y1="687.7" x2="651.3" y2="687.7" stroke="#333333" stroke-width="2.3" stroke-linecap="round"/>
<line x1="614.4" y1="760.2" x2="651.3" y2="760.2" stroke="#333333" stroke-width="2.3" stroke-linecap="round"/>
<rect x="597.1" y="696.2" width="71.3" height="37.9" fill="#4480b0" stroke="#333333" stroke-width="2.3"/>
<line x1="597.1" y1="710.6" x2="668.4" y2="710.6" stroke="#333333" stroke-width="2.3" />
<line x1="720.5" y1="738.4" x2="720.5" y2="763.5" stroke="#333333" stroke-width="2.3" />
<line x1="702.0" y1="738.4" x2="738.9" y2="738.4" stroke="#333333" stroke-width="2.3" stroke-linecap="round"/>
<line x1="702.0" y1="763.5" x2="738.9" y2="763.5" stroke="#333333" stroke-width="2.3" stroke-linecap="round"/>
<rect x="685.1" y="750.0" width="70.9" height="9.6" fill="#78acd0" stroke="#333333" stroke-width="2.3"/>
<line x1="685.1" y1="758.5" x2="756.0" y2="758.5" stroke="#333333" stroke-width="2.3" />
<g fill="#3d3d3d"><circle cx="545.3" cy="574.3" r="3.85"/><circle cx="545.3" cy="672.3" r="3.85"/><circle cx="545.3" cy="697.2" r="3.85"/><circle cx="545.3" cy="709.8" r="3.85"/><circle cx="537.4" cy="726.1" r="3.85"/><circle cx="545.3" cy="729.1" r="3.85"/><circle cx="538.8" cy="752.4" r="3.85"/><circle cx="545.3" cy="758.0" r="3.85"/><circle cx="632.8" cy="531.3" r="3.85"/><circle cx="624.8" cy="687.9" r="3.85"/><circle cx="632.8" cy="690.2" r="3.85"/><circle cx="639.3" cy="703.2" r="3.85"/><circle cx="627.4" cy="709.6" r="3.85"/><circle cx="635.7" cy="710.8" r="3.85"/><circle cx="631.0" cy="717.5" r="3.85"/><circle cx="632.8" cy="725.1" r="3.85"/><circle cx="624.8" cy="743.0" r="3.85"/><circle cx="632.8" cy="743.6" r="3.85"/><circle cx="632.8" cy="760.1" r="3.85"/><circle cx="720.4" cy="605.2" r="3.85"/><circle cx="720.4" cy="633.5" r="3.85"/><circle cx="720.4" cy="711.8" r="3.85"/><circle cx="720.4" cy="738.6" r="3.85"/><circle cx="727.0" cy="750.4" r="3.85"/><circle cx="720.4" cy="755.4" r="3.85"/><circle cx="685.1" cy="759.0" r="3.85"/><circle cx="688.1" cy="759.4" r="3.85"/><circle cx="696.1" cy="760.3" r="3.85"/><circle cx="704.1" cy="761.9" r="3.85"/><circle cx="712.0" cy="762.9" r="3.85"/><circle cx="720.4" cy="763.9" r="3.85"/><circle cx="728.4" cy="762.9" r="3.85"/><circle cx="736.3" cy="761.9" r="3.85"/><circle cx="744.5" cy="760.5" r="3.85"/><circle cx="752.9" cy="759.4" r="3.85"/><circle cx="755.8" cy="758.6" r="3.85"/></g>
<path d="M501.5 519.0 V775.3 H764.8" fill="none" stroke="#333333" stroke-width="1.9" stroke-linejoin="miter"/>
<line x1="492.2" y1="773.5" x2="501.5" y2="773.5" stroke="#333333" stroke-width="1.9" />
<text font-size="20.8" text-anchor="end" fill="#1c1c1c" stroke="#1c1c1c" stroke-width="0.35" x="485.5" y="780.4">0.0</text>
<line x1="492.2" y1="715.3" x2="501.5" y2="715.3" stroke="#333333" stroke-width="1.9" />
<text font-size="20.8" text-anchor="end" fill="#1c1c1c" stroke="#1c1c1c" stroke-width="0.35" x="485.5" y="722.2">0.5</text>
<line x1="492.2" y1="657.2" x2="501.5" y2="657.2" stroke="#333333" stroke-width="1.9" />
<text font-size="20.8" text-anchor="end" fill="#1c1c1c" stroke="#1c1c1c" stroke-width="0.35" x="485.5" y="664.1">1.0</text>
<line x1="492.2" y1="599.0" x2="501.5" y2="599.0" stroke="#333333" stroke-width="1.9" />
<text font-size="20.8" text-anchor="end" fill="#1c1c1c" stroke="#1c1c1c" stroke-width="0.35" x="485.5" y="605.9">1.5</text>
<line x1="492.2" y1="540.9" x2="501.5" y2="540.9" stroke="#333333" stroke-width="1.9" />
<text font-size="20.8" text-anchor="end" fill="#1c1c1c" stroke="#1c1c1c" stroke-width="0.35" x="485.5" y="547.8">2.0</text>
<line x1="544.7" y1="775.3" x2="544.7" y2="784.5999999999999" stroke="#333333" stroke-width="1.9" />
<text font-size="22.6" text-anchor="end" fill="#1c1c1c" stroke="#1c1c1c" stroke-width="0.35" transform="translate(544.9 804.2) rotate(-45)">CD2WT</text>
<line x1="632.8" y1="775.3" x2="632.8" y2="784.5999999999999" stroke="#333333" stroke-width="1.9" />
<text font-size="22.6" text-anchor="end" fill="#1c1c1c" stroke="#1c1c1c" stroke-width="0.35" transform="translate(633.0 804.2) rotate(-45)">CD2ΔCYT</text>
<line x1="720.4" y1="775.3" x2="720.4" y2="784.5999999999999" stroke="#333333" stroke-width="1.9" />
<text font-size="22.6" text-anchor="end" fill="#1c1c1c" stroke="#1c1c1c" stroke-width="0.35" transform="translate(720.6 804.2) rotate(-45)">CD2KO</text>
<line x1="544.5" y1="485.6" x2="721" y2="485.6" stroke="#333333" stroke-width="1.3" />
<text font-size="21" text-anchor="middle" fill="#1c1c1c" stroke="#1c1c1c" stroke-width="0.35" x="632.5" y="479.8">0.0074</text>
<line x1="632.4" y1="517.6" x2="721" y2="517.6" stroke="#333333" stroke-width="1.3" />
<text font-size="21" text-anchor="middle" fill="#1c1c1c" stroke="#1c1c1c" stroke-width="0.35" x="676.5" y="512.5">0.0048</text>
<text font-size="26.5" text-anchor="middle" fill="#1c1c1c" stroke="#1c1c1c" stroke-width="0.35" transform="translate(406.5 653) rotate(-90)">Mean close</text>
<text font-size="26.5" text-anchor="middle" fill="#1c1c1c" stroke="#1c1c1c" stroke-width="0.35" transform="translate(438 653) rotate(-90)">contact area (µm²)</text>
<text transform="translate(382.5 485.3) scale(1.125 0.95)" font-size="44" font-weight="bold" stroke="#000" stroke-width="2.6" stroke-linejoin="miter">c</text>
</g>
<g id="panel-d">
<line x1="977.8" y1="531.3" x2="977.8" y2="685.1" stroke="#333333" stroke-width="2.3" />
<line x1="959.2" y1="531.3" x2="995.6" y2="531.3" stroke="#333333" stroke-width="2.3" stroke-linecap="round"/>
<line x1="959.2" y1="685.1" x2="995.6" y2="685.1" stroke="#333333" stroke-width="2.3" stroke-linecap="round"/>
<rect x="942.5" y="597.0" width="70.5" height="56.8" fill="#1d4f8b" stroke="#333333" stroke-width="2.3"/>
<line x1="942.5" y1="618.9" x2="1013.0" y2="618.9" stroke="#333333" stroke-width="2.3" />
<line x1="1065.2" y1="588.7" x2="1065.2" y2="687.5" stroke="#333333" stroke-width="2.3" />
<line x1="1046.6" y1="588.7" x2="1083.3" y2="588.7" stroke="#333333" stroke-width="2.3" stroke-linecap="round"/>
<line x1="1046.6" y1="687.5" x2="1083.3" y2="687.5" stroke="#333333" stroke-width="2.3" stroke-linecap="round"/>
<rect x="1029.9" y="605.6" width="70.7" height="72.3" fill="#4480b0" stroke="#333333" stroke-width="2.3"/>
<line x1="1029.9" y1="658.6" x2="1100.6" y2="658.6" stroke="#333333" stroke-width="2.3" />
<line x1="1152.5" y1="635.1" x2="1152.5" y2="763.9" stroke="#333333" stroke-width="2.3" />
<line x1="1134.5" y1="635.1" x2="1170.9" y2="635.1" stroke="#333333" stroke-width="2.3" stroke-linecap="round"/>
<line x1="1134.5" y1="763.9" x2="1170.9" y2="763.9" stroke="#333333" stroke-width="2.3" stroke-linecap="round"/>
<rect x="1117.1" y="675.9" width="70.9" height="47.2" fill="#78acd0" stroke="#333333" stroke-width="2.3"/>
<line x1="1117.1" y1="695.2" x2="1188.0" y2="695.2" stroke="#333333" stroke-width="2.3" />
<g fill="#3d3d3d"><circle cx="977.3" cy="531.3" r="3.85"/><circle cx="982.1" cy="593.3" r="3.85"/><circle cx="969.2" cy="598.6" r="3.85"/><circle cx="977.7" cy="600.0" r="3.85"/><circle cx="977.7" cy="637.5" r="3.85"/><circle cx="977.7" cy="648.0" r="3.85"/><circle cx="977.3" cy="669.3" r="3.85"/><circle cx="977.3" cy="685.3" r="3.85"/><circle cx="1065.1" cy="588.7" r="3.85"/><circle cx="1056.8" cy="600.0" r="3.85"/><circle cx="1065.3" cy="600.6" r="3.85"/><circle cx="1065.3" cy="611.6" r="3.85"/><circle cx="1056.6" cy="657.0" r="3.85"/><circle cx="1067.9" cy="658.4" r="3.85"/><circle cx="1060.6" cy="663.4" r="3.85"/><circle cx="1064.9" cy="669.9" r="3.85"/><circle cx="1057.0" cy="685.7" r="3.85"/><circle cx="1072.9" cy="685.3" r="3.85"/><circle cx="1065.1" cy="687.9" r="3.85"/><circle cx="1156.4" cy="635.1" r="3.85"/><circle cx="1149.6" cy="640.9" r="3.85"/><circle cx="1152.4" cy="648.0" r="3.85"/><circle cx="1151.8" cy="668.9" r="3.85"/><circle cx="1152.4" cy="676.9" r="3.85"/><circle cx="1152.4" cy="685.3" r="3.85"/><circle cx="1160.0" cy="691.6" r="3.85"/><circle cx="1144.2" cy="695.6" r="3.85"/><circle cx="1152.4" cy="696.2" r="3.85"/><circle cx="1152.4" cy="706.8" r="3.85"/><circle cx="1152.4" cy="714.1" r="3.85"/><circle cx="1141.6" cy="721.7" r="3.85"/><circle cx="1152.4" cy="723.1" r="3.85"/><circle cx="1145.0" cy="729.1" r="3.85"/><circle cx="1160.0" cy="728.5" r="3.85"/><circle cx="1152.4" cy="732.5" r="3.85"/><circle cx="1152.4" cy="764.3" r="3.85"/></g>
<path d="M933.9 519.0 V775.5 H1196.8" fill="none" stroke="#333333" stroke-width="1.9" stroke-linejoin="miter"/>
<line x1="924.6" y1="766.3" x2="933.9" y2="766.3" stroke="#333333" stroke-width="1.9" />
<text font-size="20.8" text-anchor="end" fill="#1c1c1c" stroke="#1c1c1c" stroke-width="0.35" x="917.9" y="773.2">20</text>
<line x1="924.6" y1="723.5" x2="933.9" y2="723.5" stroke="#333333" stroke-width="1.9" />
<text font-size="20.8" text-anchor="end" fill="#1c1c1c" stroke="#1c1c1c" stroke-width="0.35" x="917.9" y="730.4">25</text>
<line x1="924.6" y1="680.7" x2="933.9" y2="680.7" stroke="#333333" stroke-width="1.9" />
<text font-size="20.8" text-anchor="end" fill="#1c1c1c" stroke="#1c1c1c" stroke-width="0.35" x="917.9" y="687.6">30</text>
<line x1="924.6" y1="637.9" x2="933.9" y2="637.9" stroke="#333333" stroke-width="1.9" />
<text font-size="20.8" text-anchor="end" fill="#1c1c1c" stroke="#1c1c1c" stroke-width="0.35" x="917.9" y="644.8">35</text>
<line x1="924.6" y1="595.6" x2="933.9" y2="595.6" stroke="#333333" stroke-width="1.9" />
<text font-size="20.8" text-anchor="end" fill="#1c1c1c" stroke="#1c1c1c" stroke-width="0.35" x="917.9" y="602.5">40</text>
<line x1="924.6" y1="552.4" x2="933.9" y2="552.4" stroke="#333333" stroke-width="1.9" />
<text font-size="20.8" text-anchor="end" fill="#1c1c1c" stroke="#1c1c1c" stroke-width="0.35" x="917.9" y="559.3">45</text>
<line x1="977.3" y1="775.5" x2="977.3" y2="784.8" stroke="#333333" stroke-width="1.9" />
<text font-size="22.6" text-anchor="end" fill="#1c1c1c" stroke="#1c1c1c" stroke-width="0.35" transform="translate(977.5 804.2) rotate(-45)">CD2WT</text>
<line x1="1065.0" y1="775.5" x2="1065.0" y2="784.8" stroke="#333333" stroke-width="1.9" />
<text font-size="22.6" text-anchor="end" fill="#1c1c1c" stroke="#1c1c1c" stroke-width="0.35" transform="translate(1065.2 804.2) rotate(-45)">CD2ΔCYT</text>
<line x1="1152.4" y1="775.5" x2="1152.4" y2="784.8" stroke="#333333" stroke-width="1.9" />
<text font-size="22.6" text-anchor="end" fill="#1c1c1c" stroke="#1c1c1c" stroke-width="0.35" transform="translate(1152.6 804.2) rotate(-45)">CD2KO</text>
<line x1="977" y1="496.8" x2="1153" y2="496.8" stroke="#333333" stroke-width="1.3" />
<text font-size="21" text-anchor="middle" fill="#1c1c1c" stroke="#1c1c1c" stroke-width="0.35" x="1063.5" y="490.5">0.0006</text>
<line x1="1065" y1="528.9" x2="1153" y2="528.9" stroke="#333333" stroke-width="1.3" />
<text font-size="21" text-anchor="middle" fill="#1c1c1c" stroke="#1c1c1c" stroke-width="0.35" x="1107" y="522.8">0.0030</text>
<text font-size="26.5" text-anchor="middle" fill="#1c1c1c" stroke="#1c1c1c" stroke-width="0.35" transform="translate(809 652.5) rotate(-90)">Mean</text>
<text font-size="26.5" text-anchor="middle" fill="#1c1c1c" stroke="#1c1c1c" stroke-width="0.35" transform="translate(840.5 652.5) rotate(-90)">glycocalyx exclusion</text>
<text font-size="26.5" text-anchor="middle" fill="#1c1c1c" stroke="#1c1c1c" stroke-width="0.35" transform="translate(872 652.5) rotate(-90)">at close contacts (%)</text>
<text transform="translate(797.5 485.3) scale(1.075 0.95)" font-size="44" font-weight="bold" stroke="#000" stroke-width="2.6" stroke-linejoin="miter">d</text>
</g>
<g id="panel-e">
<line x1="1399.2" y1="531.3" x2="1399.2" y2="723.5" stroke="#333333" stroke-width="2.3" />
<line x1="1380.8" y1="531.3" x2="1417.7" y2="531.3" stroke="#333333" stroke-width="2.3" stroke-linecap="round"/>
<line x1="1380.8" y1="723.5" x2="1417.7" y2="723.5" stroke="#333333" stroke-width="2.3" stroke-linecap="round"/>
<rect x="1363.9" y="589.7" width="70.7" height="56.7" fill="#1d4f8b" stroke="#333333" stroke-width="2.3"/>
<line x1="1363.9" y1="626.1" x2="1434.6" y2="626.1" stroke="#333333" stroke-width="2.3" />
<line x1="1487.0" y1="567.8" x2="1487.0" y2="724.7" stroke="#333333" stroke-width="2.3" />
<line x1="1468.5" y1="567.8" x2="1505.3" y2="567.8" stroke="#333333" stroke-width="2.3" stroke-linecap="round"/>
<line x1="1468.5" y1="724.7" x2="1505.3" y2="724.7" stroke="#333333" stroke-width="2.3" stroke-linecap="round"/>
<rect x="1451.5" y="628.7" width="70.9" height="47.2" fill="#4480b0" stroke="#333333" stroke-width="2.3"/>
<line x1="1451.5" y1="658.6" x2="1522.4" y2="658.6" stroke="#333333" stroke-width="2.3" />
<line x1="1574.4" y1="548.2" x2="1574.4" y2="709.8" stroke="#333333" stroke-width="2.3" />
<line x1="1556.1" y1="548.2" x2="1592.9" y2="548.2" stroke="#333333" stroke-width="2.3" stroke-linecap="round"/>
<line x1="1556.1" y1="709.8" x2="1592.9" y2="709.8" stroke="#333333" stroke-width="2.3" stroke-linecap="round"/>
<rect x="1538.8" y="614.8" width="71.3" height="55.5" fill="#78acd0" stroke="#333333" stroke-width="2.3"/>
<line x1="1538.8" y1="654.0" x2="1610.1" y2="654.0" stroke="#333333" stroke-width="2.3" />
<g fill="#3d3d3d"><circle cx="1399.2" cy="531.3" r="3.85"/><circle cx="1399.2" cy="573.7" r="3.85"/><circle cx="1399.2" cy="596.0" r="3.85"/><circle cx="1399.2" cy="612.6" r="3.85"/><circle cx="1391.0" cy="640.5" r="3.85"/><circle cx="1399.2" cy="641.4" r="3.85"/><circle cx="1399.2" cy="660.4" r="3.85"/><circle cx="1399.2" cy="723.5" r="3.85"/><circle cx="1486.8" cy="567.8" r="3.85"/><circle cx="1486.8" cy="598.0" r="3.85"/><circle cx="1486.8" cy="624.1" r="3.85"/><circle cx="1486.8" cy="633.1" r="3.85"/><circle cx="1486.8" cy="648.0" r="3.85"/><circle cx="1480.0" cy="659.0" r="3.85"/><circle cx="1486.8" cy="663.8" r="3.85"/><circle cx="1480.0" cy="673.7" r="3.85"/><circle cx="1486.8" cy="678.3" r="3.85"/><circle cx="1486.8" cy="724.7" r="3.85"/><circle cx="1486.8" cy="764.1" r="3.85"/><circle cx="1574.4" cy="548.2" r="3.85"/><circle cx="1574.4" cy="569.2" r="3.85"/><circle cx="1574.4" cy="582.5" r="3.85"/><circle cx="1574.4" cy="596.0" r="3.85"/><circle cx="1574.4" cy="615.0" r="3.85"/><circle cx="1574.4" cy="637.5" r="3.85"/><circle cx="1558.5" cy="651.8" r="3.85"/><circle cx="1566.1" cy="654.8" r="3.85"/><circle cx="1574.4" cy="654.8" r="3.85"/><circle cx="1582.4" cy="652.0" r="3.85"/><circle cx="1558.5" cy="666.7" r="3.85"/><circle cx="1566.1" cy="669.9" r="3.85"/><circle cx="1574.4" cy="669.9" r="3.85"/><circle cx="1582.4" cy="667.7" r="3.85"/><circle cx="1574.4" cy="686.3" r="3.85"/><circle cx="1566.1" cy="707.8" r="3.85"/><circle cx="1574.4" cy="709.8" r="3.85"/></g>
<path d="M1355.5 519.0 V775.5 H1618.8" fill="none" stroke="#333333" stroke-width="1.9" stroke-linejoin="miter"/>
<line x1="1346.2" y1="741.0" x2="1355.5" y2="741.0" stroke="#333333" stroke-width="1.9" />
<text font-size="20.8" text-anchor="end" fill="#1c1c1c" stroke="#1c1c1c" stroke-width="0.35" x="1339.5" y="747.9">10</text>
<line x1="1346.2" y1="702.8" x2="1355.5" y2="702.8" stroke="#333333" stroke-width="1.9" />
<text font-size="20.8" text-anchor="end" fill="#1c1c1c" stroke="#1c1c1c" stroke-width="0.35" x="1339.5" y="709.7">20</text>
<line x1="1346.2" y1="664.9" x2="1355.5" y2="664.9" stroke="#333333" stroke-width="1.9" />
<text font-size="20.8" text-anchor="end" fill="#1c1c1c" stroke="#1c1c1c" stroke-width="0.35" x="1339.5" y="671.8">30</text>
<line x1="1346.2" y1="627.1" x2="1355.5" y2="627.1" stroke="#333333" stroke-width="1.9" />
<text font-size="20.8" text-anchor="end" fill="#1c1c1c" stroke="#1c1c1c" stroke-width="0.35" x="1339.5" y="634.0">40</text>
<line x1="1346.2" y1="589.3" x2="1355.5" y2="589.3" stroke="#333333" stroke-width="1.9" />
<text font-size="20.8" text-anchor="end" fill="#1c1c1c" stroke="#1c1c1c" stroke-width="0.35" x="1339.5" y="596.2">50</text>
<line x1="1346.2" y1="551.2" x2="1355.5" y2="551.2" stroke="#333333" stroke-width="1.9" />
<text font-size="20.8" text-anchor="end" fill="#1c1c1c" stroke="#1c1c1c" stroke-width="0.35" x="1339.5" y="558.1">60</text>
<line x1="1399.2" y1="775.5" x2="1399.2" y2="784.8" stroke="#333333" stroke-width="1.9" />
<text font-size="22.6" text-anchor="end" fill="#1c1c1c" stroke="#1c1c1c" stroke-width="0.35" transform="translate(1399.4 804.2) rotate(-45)">CD2WT</text>
<line x1="1486.8" y1="775.5" x2="1486.8" y2="784.8" stroke="#333333" stroke-width="1.9" />
<text font-size="22.6" text-anchor="end" fill="#1c1c1c" stroke="#1c1c1c" stroke-width="0.35" transform="translate(1487.0 804.2) rotate(-45)">CD2ΔCYT</text>
<line x1="1574.4" y1="775.5" x2="1574.4" y2="784.8" stroke="#333333" stroke-width="1.9" />
<text font-size="22.6" text-anchor="end" fill="#1c1c1c" stroke="#1c1c1c" stroke-width="0.35" transform="translate(1574.6 804.2) rotate(-45)">CD2KO</text>
<line x1="1398.4" y1="514.6" x2="1575.6" y2="514.6" stroke="#333333" stroke-width="1.3" />
<text font-size="21" text-anchor="middle" fill="#1c1c1c" stroke="#1c1c1c" stroke-width="0.35" x="1489" y="505.4">0.35 (Kruskal-Wallis)</text>
<text font-size="26.5" text-anchor="middle" fill="#1c1c1c" stroke="#1c1c1c" stroke-width="0.35" transform="translate(1231 644.5) rotate(-90)">Mean</text>
<text font-size="26.5" text-anchor="middle" fill="#1c1c1c" stroke="#1c1c1c" stroke-width="0.35" transform="translate(1262.5 644.5) rotate(-90)">CD45 exclusion</text>
<text font-size="26.5" text-anchor="middle" fill="#1c1c1c" stroke="#1c1c1c" stroke-width="0.35" transform="translate(1294 644.5) rotate(-90)">at close contacts (%)</text>
<text transform="translate(1227.0 485.3) scale(1.125 0.95)" font-size="44" font-weight="bold" stroke="#000" stroke-width="2.6" stroke-linejoin="miter">e</text>
</g>
<g id="panel-f">
<text transform="translate(1.7 946.5) scale(1.03 0.95)" font-size="44" font-weight="bold" stroke="#000" stroke-width="2.6" stroke-linejoin="miter">f</text>
<line x1="91.9" y1="938.9" x2="123.5" y2="938.9" stroke="#0b4a99" stroke-width="2.8" />
<circle cx="107.6" cy="938.9" r="2.8" fill="#0b4a99"/>
<text font-size="22" stroke="#000" stroke-width="0.35" x="138.2" y="947.6">CD2WT</text>
<line x1="254.3" y1="938.9" x2="287.0" y2="938.9" stroke="#2f7bbd" stroke-width="2.8" />
<circle cx="270.6" cy="938.9" r="2.8" fill="#2f7bbd"/>
<text font-size="22" stroke="#000" stroke-width="0.35" x="301.0" y="947.6">CD2ΔCYT</text>
<line x1="430.4" y1="938.9" x2="462.0" y2="938.9" stroke="#6fb3de" stroke-width="2.8" />
<circle cx="446.1" cy="938.9" r="2.8" fill="#6fb3de"/>
<text font-size="22" stroke="#000" stroke-width="0.35" x="477.2" y="947.6">CD2KO</text>
<rect x="148.3" y="976.4" width="58.2" height="293.4" fill="none" stroke="#000" stroke-width="2.5"/>
<rect x="256.9" y="976.4" width="293.0" height="293.4" fill="none" stroke="#000" stroke-width="2.5"/>
<line x1="135.2" y1="1269.8" x2="148.3" y2="1269.8" stroke="#000" stroke-width="2.5" />
<line x1="244.0" y1="1269.8" x2="256.9" y2="1269.8" stroke="#000" stroke-width="2.5" />
<text font-size="22" text-anchor="end" stroke="#000" stroke-width="0.35" x="129.9" y="1277.0">0</text>
<line x1="135.2" y1="1211.1" x2="148.3" y2="1211.1" stroke="#000" stroke-width="2.5" />
<line x1="244.0" y1="1211.1" x2="256.9" y2="1211.1" stroke="#000" stroke-width="2.5" />
<text font-size="22" text-anchor="end" stroke="#000" stroke-width="0.35" x="129.9" y="1218.3">20</text>
<line x1="135.2" y1="1152.4" x2="148.3" y2="1152.4" stroke="#000" stroke-width="2.5" />
<line x1="244.0" y1="1152.4" x2="256.9" y2="1152.4" stroke="#000" stroke-width="2.5" />
<text font-size="22" text-anchor="end" stroke="#000" stroke-width="0.35" x="129.9" y="1159.6">40</text>
<line x1="135.2" y1="1093.8" x2="148.3" y2="1093.8" stroke="#000" stroke-width="2.5" />
<line x1="244.0" y1="1093.8" x2="256.9" y2="1093.8" stroke="#000" stroke-width="2.5" />
<text font-size="22" text-anchor="end" stroke="#000" stroke-width="0.35" x="129.9" y="1101.0">60</text>
<line x1="135.2" y1="1035.1" x2="148.3" y2="1035.1" stroke="#000" stroke-width="2.5" />
<line x1="244.0" y1="1035.1" x2="256.9" y2="1035.1" stroke="#000" stroke-width="2.5" />
<text font-size="22" text-anchor="end" stroke="#000" stroke-width="0.35" x="129.9" y="1042.3">80</text>
<line x1="135.2" y1="976.4" x2="148.3" y2="976.4" stroke="#000" stroke-width="2.5" />
<line x1="244.0" y1="976.4" x2="256.9" y2="976.4" stroke="#000" stroke-width="2.5" />
<text font-size="22" text-anchor="end" stroke="#000" stroke-width="0.35" x="129.9" y="983.6">100</text>
<line x1="177.0" y1="1269.8" x2="177.0" y2="1282.3" stroke="#000" stroke-width="2.5" />
<text font-size="22" text-anchor="end" stroke="#000" stroke-width="0.35" transform="translate(186.2 1309.3) rotate(-45)">0</text>
<line x1="256.9" y1="1269.8" x2="256.9" y2="1282.3" stroke="#000" stroke-width="2.5" />
<text transform="translate(279.2 1297.6) rotate(-45)" font-size="22" text-anchor="end" stroke="#000" stroke-width="0.3">10<tspan font-size="16" dy="-7">-4</tspan></text>
<line x1="293.5" y1="1269.8" x2="293.5" y2="1282.3" stroke="#000" stroke-width="2.5" />
<text transform="translate(315.8 1297.6) rotate(-45)" font-size="22" text-anchor="end" stroke="#000" stroke-width="0.3">10<tspan font-size="16" dy="-7">-3</tspan></text>
<line x1="330.2" y1="1269.8" x2="330.2" y2="1282.3" stroke="#000" stroke-width="2.5" />
<text transform="translate(352.5 1297.6) rotate(-45)" font-size="22" text-anchor="end" stroke="#000" stroke-width="0.3">10<tspan font-size="16" dy="-7">-2</tspan></text>
<line x1="366.8" y1="1269.8" x2="366.8" y2="1282.3" stroke="#000" stroke-width="2.5" />
<text transform="translate(389.1 1297.6) rotate(-45)" font-size="22" text-anchor="end" stroke="#000" stroke-width="0.3">10<tspan font-size="16" dy="-7">-1</tspan></text>
<line x1="403.4" y1="1269.8" x2="403.4" y2="1282.3" stroke="#000" stroke-width="2.5" />
<text transform="translate(425.7 1297.6) rotate(-45)" font-size="22" text-anchor="end" stroke="#000" stroke-width="0.3">10<tspan font-size="16" dy="-7">0</tspan></text>
<line x1="440.0" y1="1269.8" x2="440.0" y2="1282.3" stroke="#000" stroke-width="2.5" />
<text transform="translate(462.3 1297.6) rotate(-45)" font-size="22" text-anchor="end" stroke="#000" stroke-width="0.3">10<tspan font-size="16" dy="-7">1</tspan></text>
<line x1="476.7" y1="1269.8" x2="476.7" y2="1282.3" stroke="#000" stroke-width="2.5" />
<text transform="translate(499.0 1297.6) rotate(-45)" font-size="22" text-anchor="end" stroke="#000" stroke-width="0.3">10<tspan font-size="16" dy="-7">2</tspan></text>
<line x1="513.3" y1="1269.8" x2="513.3" y2="1282.3" stroke="#000" stroke-width="2.5" />
<text transform="translate(535.6 1297.6) rotate(-45)" font-size="22" text-anchor="end" stroke="#000" stroke-width="0.3">10<tspan font-size="16" dy="-7">3</tspan></text>
<line x1="549.9" y1="1269.8" x2="549.9" y2="1282.3" stroke="#000" stroke-width="2.5" />
<text transform="translate(572.2 1297.6) rotate(-45)" font-size="22" text-anchor="end" stroke="#000" stroke-width="0.3">10<tspan font-size="16" dy="-7">4</tspan></text>
<text font-size="28" text-anchor="middle" stroke="#000" stroke-width="0.35" x="367.5" y="1367.5">Density of agonist pMHC (µm⁻²)</text>
<text font-size="28" text-anchor="middle" stroke="#000" stroke-width="0.35" transform="translate(39.5 1110) rotate(-90)">Fraction of cells</text>
<text font-size="28" text-anchor="middle" stroke="#000" stroke-width="0.35" transform="translate(72.5 1110) rotate(-90)">that signal (%)</text>
<g fill="#6fb3de"><circle cx="314.2" cy="1267.6" r="3.2"/><circle cx="325.0" cy="1251.1" r="3.2"/><circle cx="331.6" cy="1232.4" r="3.2"/><circle cx="350.8" cy="1208.2" r="3.2"/><circle cx="361.9" cy="1255.1" r="3.2"/><circle cx="368.0" cy="1237.8" r="3.2"/><circle cx="393.8" cy="1222.3" r="3.2"/><circle cx="398.5" cy="1259.4" r="3.2"/><circle cx="404.8" cy="1231.7" r="3.2"/><circle cx="412.8" cy="1224.9" r="3.2"/><circle cx="424.1" cy="1236.4" r="3.2"/><circle cx="434.9" cy="1205.6" r="3.2"/><circle cx="441.2" cy="1242.2" r="3.2"/><circle cx="460.7" cy="1221.1" r="3.2"/><circle cx="467.0" cy="1156.1" r="3.2"/><circle cx="471.7" cy="1197.1" r="3.2"/><circle cx="477.8" cy="1185.4" r="3.2"/><circle cx="486.1" cy="1113.8" r="3.2"/><circle cx="497.3" cy="1116.6" r="3.2"/><circle cx="503.9" cy="1140.3" r="3.2"/><circle cx="514.9" cy="1119.2" r="3.2"/></g>
<g fill="#2f7bbd"><circle cx="325.0" cy="1211.9" r="3.2"/><circle cx="331.6" cy="1220.2" r="3.2"/><circle cx="368.0" cy="1202.5" r="3.2"/><circle cx="393.8" cy="1192.0" r="3.2"/><circle cx="404.8" cy="1183.1" r="3.2"/><circle cx="398.5" cy="1217.1" r="3.2"/><circle cx="387.2" cy="1237.5" r="3.2"/><circle cx="424.1" cy="1142.0" r="3.2"/><circle cx="434.9" cy="1135.6" r="3.2"/><circle cx="430.2" cy="1157.2" r="3.2"/><circle cx="441.2" cy="1155.6" r="3.2"/><circle cx="449.7" cy="1126.2" r="3.2"/><circle cx="467.0" cy="1135.6" r="3.2"/><circle cx="471.7" cy="1115.0" r="3.2"/><circle cx="477.8" cy="1150.2" r="3.2"/><circle cx="460.7" cy="1199.5" r="3.2"/><circle cx="503.9" cy="1117.3" r="3.2"/><circle cx="514.9" cy="1120.8" r="3.2"/></g>
<g fill="#0b4a99"><circle cx="314.2" cy="1187.3" r="3.2"/><circle cx="325.0" cy="1187.0" r="3.2"/><circle cx="331.6" cy="1174.4" r="3.2"/><circle cx="350.8" cy="1187.3" r="3.2"/><circle cx="387.2" cy="1157.9" r="3.2"/><circle cx="393.8" cy="1093.8" r="3.2"/><circle cx="404.8" cy="1088.7" r="3.2"/><circle cx="412.8" cy="1118.5" r="3.2"/><circle cx="424.1" cy="1129.3" r="3.2"/><circle cx="430.2" cy="1136.8" r="3.2"/><circle cx="434.9" cy="1115.4" r="3.2"/><circle cx="441.2" cy="1122.0" r="3.2"/><circle cx="449.7" cy="1124.8" r="3.2"/><circle cx="460.7" cy="1098.5" r="3.2"/><circle cx="467.0" cy="1105.1" r="3.2"/><circle cx="471.7" cy="1077.6" r="3.2"/><circle cx="477.8" cy="1119.4" r="3.2"/><circle cx="486.1" cy="1052.3" r="3.2"/><circle cx="497.3" cy="1086.3" r="3.2"/><circle cx="503.9" cy="1082.1" r="3.2"/><circle cx="514.9" cy="1079.3" r="3.2"/><circle cx="398.5" cy="1188.5" r="3.2"/><circle cx="362.1" cy="1212.4" r="3.2"/></g>
<path d="M256.9 1252.9 C265.8 1252.9 295.6 1252.8 310.4 1252.7 C325.2 1252.6 335.5 1252.4 345.7 1252.2 C355.9 1252.0 364.1 1251.8 371.5 1251.3 C378.9 1250.8 384.0 1250.1 390.3 1248.9 C396.6 1247.7 403.2 1246.3 409.1 1244.2 C415.0 1242.1 420.4 1239.8 425.5 1236.5 C430.6 1233.2 435.3 1229.2 439.6 1224.7 C443.9 1220.2 447.8 1214.8 451.3 1209.5 C454.8 1204.2 457.6 1198.7 460.7 1193.0 C463.8 1187.3 467.0 1181.1 470.1 1175.4 C473.2 1169.7 476.4 1164.1 479.5 1159.0 C482.6 1153.9 485.8 1149.2 488.9 1144.9 C492.0 1140.6 495.2 1136.5 498.3 1133.2 C501.4 1129.9 504.6 1127.5 507.7 1125.0 C510.8 1122.5 513.2 1120.4 517.1 1118.4 C521.0 1116.3 525.6 1114.4 531.1 1112.7 C536.6 1111.0 546.8 1108.9 549.9 1108.1" fill="none" stroke="#6fb3de" stroke-width="3.0"/>
<path d="M256.9 1241.7 C259.9 1241.3 269.0 1240.2 275.2 1239.3 C281.4 1238.3 288.1 1237.2 294.0 1236.0 C299.9 1234.8 304.5 1233.8 310.4 1232.3 C316.3 1230.8 323.3 1229.0 329.2 1227.1 C335.1 1225.2 340.2 1223.1 345.7 1220.8 C351.2 1218.5 356.2 1216.1 362.1 1213.0 C368.0 1209.9 374.6 1206.3 380.9 1202.4 C387.2 1198.5 393.8 1193.8 399.7 1189.5 C405.6 1185.2 410.2 1181.1 416.1 1176.6 C422.0 1172.1 429.0 1166.8 434.9 1162.5 C440.8 1158.2 446.2 1154.3 451.3 1150.8 C456.4 1147.3 460.3 1144.7 465.4 1141.4 C470.5 1138.1 476.3 1133.9 481.8 1130.8 C487.3 1127.7 492.8 1125.1 498.3 1122.6 C503.8 1120.1 509.2 1117.8 514.7 1116.0 C520.2 1114.2 525.2 1112.8 531.1 1111.6 C537.0 1110.3 546.8 1109.0 549.9 1108.5" fill="none" stroke="#2f7bbd" stroke-width="3.0"/>
<path d="M256.9 1206.0 C259.9 1205.6 269.0 1204.7 275.2 1203.6 C281.4 1202.5 288.1 1201.0 294.0 1199.6 C299.9 1198.1 304.5 1196.8 310.4 1194.9 C316.3 1192.9 323.3 1190.5 329.2 1187.9 C335.1 1185.3 340.2 1182.4 345.7 1179.4 C351.2 1176.3 356.2 1173.4 362.1 1169.6 C368.0 1165.8 374.6 1161.4 380.9 1156.7 C387.2 1152.0 393.8 1146.1 399.7 1141.4 C405.6 1136.7 410.2 1132.8 416.1 1128.5 C422.0 1124.2 429.0 1119.3 434.9 1115.6 C440.8 1111.9 446.2 1108.9 451.3 1106.2 C456.4 1103.5 460.3 1101.8 465.4 1099.6 C470.5 1097.4 476.3 1095.1 481.8 1093.3 C487.3 1091.5 492.8 1089.9 498.3 1088.6 C503.8 1087.3 509.2 1086.3 514.7 1085.5 C520.2 1084.7 525.2 1084.1 531.1 1083.6 C537.0 1083.0 546.8 1082.4 549.9 1082.2" fill="none" stroke="#0b4a99" stroke-width="3.0"/>
<g fill="#6fb3de"><circle cx="165.1" cy="1253.4" r="3.2"/><circle cx="171.1" cy="1252.4" r="3.2"/><circle cx="177.2" cy="1251.7" r="3.2"/><circle cx="183.2" cy="1252.4" r="3.2"/><circle cx="189.1" cy="1254.5" r="3.2"/></g>
<g fill="#2f7bbd"><circle cx="177.2" cy="1242.4" r="3.2"/><circle cx="182.7" cy="1242.0" r="3.2"/><circle cx="171.1" cy="1248.9" r="3.2"/><circle cx="189.1" cy="1248.4" r="3.2"/></g>
<line x1="162.2" y1="1245.6" x2="192.0" y2="1245.6" stroke="#2f7bbd" stroke-width="2.8" />
<g fill="#0b4a99"><circle cx="177.2" cy="1172.3" r="3.2"/><circle cx="177.2" cy="1196.6" r="3.2"/><circle cx="177.2" cy="1213.1" r="3.2"/><circle cx="177.2" cy="1225.4" r="3.2"/></g>
<line x1="162.2" y1="1204.7" x2="192.0" y2="1204.7" stroke="#0b4a99" stroke-width="2.8" />
</g>
<g id="panel-g">
<text transform="translate(605.5 946.6) scale(1.1 0.95)" font-size="44" font-weight="bold" stroke="#000" stroke-width="2.6" stroke-linejoin="miter">g</text>
<text font-size="25.5" text-anchor="middle" fill="#18b418" stroke="#18b418" stroke-width="0.35" x="759.5" y="965.4">Lck-Halo</text>
<text font-size="25.5" text-anchor="middle" stroke="#000" stroke-width="0.35" x="919.5" y="965.4">Glycocalyx</text>
<text font-size="25.5" text-anchor="middle" stroke="#000" stroke-width="0.35" x="1078" y="965.4">Combined</text>
<text font-size="25.6" text-anchor="middle" stroke="#000" stroke-width="0.35" transform="translate(662.3 1057.6) rotate(-90)">CD2WT</text>
<text font-size="25.5" text-anchor="middle" stroke="#000" stroke-width="0.35" transform="translate(662.3 1216.5) rotate(-90)">CD2ΔCYT</text>
<svg x="680.4" y="976.8" width="157.5" height="157.4" viewBox="0 0 157.5 157.4" overflow="hidden">
<rect width="157.5" height="157.4" fill="#000400"/>
<path d="M57.6 20.7 C61.6 20.2 66.5 19.5 72.4 22.2 C78.3 24.9 88.7 32.0 93.1 36.9 C97.5 41.8 95.6 48.0 99.0 51.7 C102.4 55.4 108.8 58.4 113.7 59.1 C118.6 59.8 124.1 52.9 128.5 56.1 C132.9 59.3 137.8 72.1 140.3 78.3 C142.8 84.5 144.8 87.7 143.3 93.1 C141.8 98.5 135.4 106.4 131.5 110.8 C127.5 115.2 122.6 116.6 119.6 119.6 C116.6 122.5 117.6 128.0 113.7 128.5 C109.8 129.0 100.9 122.1 96.0 122.6 C91.1 123.1 90.1 129.5 84.2 131.5 C78.3 133.5 68.0 135.4 60.6 134.4 C53.2 133.4 45.3 129.4 39.9 125.5 C34.5 121.6 30.6 116.2 28.1 110.8 C25.6 105.4 24.6 99.0 25.1 93.1 C25.6 87.2 29.5 81.2 31.0 75.3 C32.5 69.4 32.5 63.5 34.0 57.6 C35.5 51.7 37.4 45.3 39.9 39.9 C42.4 34.5 45.8 28.3 48.7 25.1 C51.7 21.9 53.6 21.2 57.6 20.7 Z" fill="#0c5c0c" filter="url(#rough3)" opacity="0.9" transform="translate(-4 -4) scale(1.05)"/>
<path d="M57.6 20.7 C61.6 20.2 66.5 19.5 72.4 22.2 C78.3 24.9 88.7 32.0 93.1 36.9 C97.5 41.8 95.6 48.0 99.0 51.7 C102.4 55.4 108.8 58.4 113.7 59.1 C118.6 59.8 124.1 52.9 128.5 56.1 C132.9 59.3 137.8 72.1 140.3 78.3 C142.8 84.5 144.8 87.7 143.3 93.1 C141.8 98.5 135.4 106.4 131.5 110.8 C127.5 115.2 122.6 116.6 119.6 119.6 C116.6 122.5 117.6 128.0 113.7 128.5 C109.8 129.0 100.9 122.1 96.0 122.6 C91.1 123.1 90.1 129.5 84.2 131.5 C78.3 133.5 68.0 135.4 60.6 134.4 C53.2 133.4 45.3 129.4 39.9 125.5 C34.5 121.6 30.6 116.2 28.1 110.8 C25.6 105.4 24.6 99.0 25.1 93.1 C25.6 87.2 29.5 81.2 31.0 75.3 C32.5 69.4 32.5 63.5 34.0 57.6 C35.5 51.7 37.4 45.3 39.9 39.9 C42.4 34.5 45.8 28.3 48.7 25.1 C51.7 21.9 53.6 21.2 57.6 20.7 Z" fill="#1ea81e" filter="url(#rough3)" opacity="0.95" transform="translate(4.5 5) scale(0.94)"/>
<path d="M57.6 20.7 C61.6 20.2 66.5 19.5 72.4 22.2 C78.3 24.9 88.7 32.0 93.1 36.9 C97.5 41.8 95.6 48.0 99.0 51.7 C102.4 55.4 108.8 58.4 113.7 59.1 C118.6 59.8 124.1 52.9 128.5 56.1 C132.9 59.3 137.8 72.1 140.3 78.3 C142.8 84.5 144.8 87.7 143.3 93.1 C141.8 98.5 135.4 106.4 131.5 110.8 C127.5 115.2 122.6 116.6 119.6 119.6 C116.6 122.5 117.6 128.0 113.7 128.5 C109.8 129.0 100.9 122.1 96.0 122.6 C91.1 123.1 90.1 129.5 84.2 131.5 C78.3 133.5 68.0 135.4 60.6 134.4 C53.2 133.4 45.3 129.4 39.9 125.5 C34.5 121.6 30.6 116.2 28.1 110.8 C25.6 105.4 24.6 99.0 25.1 93.1 C25.6 87.2 29.5 81.2 31.0 75.3 C32.5 69.4 32.5 63.5 34.0 57.6 C35.5 51.7 37.4 45.3 39.9 39.9 C42.4 34.5 45.8 28.3 48.7 25.1 C51.7 21.9 53.6 21.2 57.6 20.7 Z" fill="#2cc42c" filter="url(#b5)" opacity="0.5" transform="translate(20 20) scale(0.75)"/>
<rect width="157.5" height="157.4" filter="url(#ngtex)" opacity="0.5" style="mix-blend-mode:multiply"/>
<g filter="url(#b1)" fill="#66ff66"><circle cx="56.1" cy="35.4" r="2.3" opacity="0.9"/><circle cx="63.5" cy="40.5" r="2.3" opacity="0.9"/><circle cx="65.6" cy="47.3" r="2.3" opacity="0.9"/><circle cx="84.2" cy="60.0" r="2.3" opacity="0.9"/><circle cx="59.1" cy="63.5" r="2.3" opacity="0.9"/><circle cx="75.3" cy="70.0" r="2.3" opacity="0.9"/><circle cx="50.2" cy="72.4" r="2.3" opacity="0.9"/><circle cx="67.9" cy="78.3" r="2.3" opacity="0.9"/><circle cx="87.1" cy="76.8" r="2.3" opacity="0.9"/><circle cx="115.2" cy="73.9" r="2.3" opacity="0.9"/><circle cx="122.6" cy="75.3" r="2.3" opacity="0.9"/><circle cx="112.3" cy="96.0" r="2.3" opacity="0.9"/><circle cx="125.5" cy="93.1" r="2.3" opacity="0.9"/><circle cx="130.0" cy="92.5" r="2.3" opacity="0.9"/><circle cx="97.5" cy="103.4" r="2.3" opacity="0.9"/><circle cx="119.6" cy="101.9" r="2.3" opacity="0.9"/><circle cx="72.4" cy="102.5" r="2.3" opacity="0.9"/><circle cx="39.9" cy="106.3" r="2.3" opacity="0.9"/><circle cx="35.4" cy="112.3" r="2.3" opacity="0.9"/><circle cx="53.2" cy="115.2" r="2.3" opacity="0.9"/><circle cx="82.7" cy="112.3" r="2.3" opacity="0.9"/><circle cx="94.5" cy="87.1" r="2.3" opacity="0.9"/><circle cx="104.9" cy="85.7" r="2.3" opacity="0.9"/></g>
</svg>
<svg x="841.4" y="976.8" width="156.0" height="157.4" viewBox="0 0 156.0 157.4" overflow="hidden">
<rect x="0" y="0" width="216.0" height="207.4" transform="translate(0 0)" filter="url(#ngray2)"/>
<rect width="156.0" height="157.4" fill="url(#vband)" opacity="0.5"/>
<path d="M57.6 20.7 C61.6 20.2 66.5 19.5 72.4 22.2 C78.3 24.9 88.7 32.0 93.1 36.9 C97.5 41.8 95.6 48.0 99.0 51.7 C102.4 55.4 108.8 58.4 113.7 59.1 C118.6 59.8 124.1 52.9 128.5 56.1 C132.9 59.3 137.8 72.1 140.3 78.3 C142.8 84.5 144.8 87.7 143.3 93.1 C141.8 98.5 135.4 106.4 131.5 110.8 C127.5 115.2 122.6 116.6 119.6 119.6 C116.6 122.5 117.6 128.0 113.7 128.5 C109.8 129.0 100.9 122.1 96.0 122.6 C91.1 123.1 90.1 129.5 84.2 131.5 C78.3 133.5 68.0 135.4 60.6 134.4 C53.2 133.4 45.3 129.4 39.9 125.5 C34.5 121.6 30.6 116.2 28.1 110.8 C25.6 105.4 24.6 99.0 25.1 93.1 C25.6 87.2 29.5 81.2 31.0 75.3 C32.5 69.4 32.5 63.5 34.0 57.6 C35.5 51.7 37.4 45.3 39.9 39.9 C42.4 34.5 45.8 28.3 48.7 25.1 C51.7 21.9 53.6 21.2 57.6 20.7 Z" fill="#d0d0d0" filter="url(#b9)" opacity="0.35"/>
<g filter="url(#b1)" fill="#0a0a0a"><ellipse cx="62.0" cy="48.7" rx="2.5" ry="2.2" opacity="0.88"/><ellipse cx="81.2" cy="60.0" rx="3.4" ry="3" opacity="0.88"/><ellipse cx="57.6" cy="63.5" rx="2.3" ry="2" opacity="0.88"/><ellipse cx="47.3" cy="66.5" rx="2.3" ry="2" opacity="0.88"/><ellipse cx="50.2" cy="72.4" rx="2.5" ry="2.2" opacity="0.88"/><ellipse cx="73.9" cy="73.0" rx="2.5" ry="2.2" opacity="0.88"/><ellipse cx="66.5" cy="78.3" rx="2.8" ry="2.4" opacity="0.88"/><ellipse cx="85.7" cy="78.9" rx="3.0" ry="2.6" opacity="0.88"/><ellipse cx="91.6" cy="86.6" rx="3.7" ry="3.2" opacity="0.88"/><ellipse cx="106.3" cy="84.2" rx="2.5" ry="2.2" opacity="0.88"/><ellipse cx="112.3" cy="84.8" rx="2.5" ry="2.2" opacity="0.88"/><ellipse cx="59.1" cy="89.5" rx="2.3" ry="2" opacity="0.88"/><ellipse cx="53.2" cy="96.0" rx="3.0" ry="2.6" opacity="0.88"/><ellipse cx="70.9" cy="101.9" rx="3.4" ry="3" opacity="0.88"/><ellipse cx="109.3" cy="97.5" rx="2.5" ry="2.2" opacity="0.88"/><ellipse cx="96.0" cy="103.4" rx="2.8" ry="2.4" opacity="0.88"/><ellipse cx="127.0" cy="93.6" rx="2.3" ry="2" opacity="0.88"/><ellipse cx="35.4" cy="110.8" rx="2.8" ry="2.4" opacity="0.88"/><ellipse cx="81.2" cy="112.3" rx="2.8" ry="2.4" opacity="0.88"/><ellipse cx="51.7" cy="116.1" rx="4.4" ry="3.8" opacity="0.88"/><ellipse cx="87.1" cy="102.5" rx="2.3" ry="2" opacity="0.88"/></g>
<g filter="url(#b1)" fill="#fff"><circle cx="105.8" cy="38.4" r="1.6" opacity="0.95"/><circle cx="148.6" cy="57.0" r="1.4" opacity="0.95"/><circle cx="137.4" cy="96.6" r="2" opacity="0.95"/><circle cx="112.3" cy="125.5" r="1.6" opacity="0.95"/><circle cx="125.5" cy="50.2" r="1.2" opacity="0.95"/></g>
</svg>
<svg x="1000.9" y="976.8" width="158.1" height="157.4" viewBox="0 0 158.1 157.4" overflow="hidden">
<rect x="0" y="0" width="218.1" height="207.4" transform="translate(0 0)" filter="url(#ngray2)"/>
<rect width="158.1" height="157.4" fill="url(#vband)" opacity="0.5"/>
<path d="M57.6 20.7 C61.6 20.2 66.5 19.5 72.4 22.2 C78.3 24.9 88.7 32.0 93.1 36.9 C97.5 41.8 95.6 48.0 99.0 51.7 C102.4 55.4 108.8 58.4 113.7 59.1 C118.6 59.8 124.1 52.9 128.5 56.1 C132.9 59.3 137.8 72.1 140.3 78.3 C142.8 84.5 144.8 87.7 143.3 93.1 C141.8 98.5 135.4 106.4 131.5 110.8 C127.5 115.2 122.6 116.6 119.6 119.6 C116.6 122.5 117.6 128.0 113.7 128.5 C109.8 129.0 100.9 122.1 96.0 122.6 C91.1 123.1 90.1 129.5 84.2 131.5 C78.3 133.5 68.0 135.4 60.6 134.4 C53.2 133.4 45.3 129.4 39.9 125.5 C34.5 121.6 30.6 116.2 28.1 110.8 C25.6 105.4 24.6 99.0 25.1 93.1 C25.6 87.2 29.5 81.2 31.0 75.3 C32.5 69.4 32.5 63.5 34.0 57.6 C35.5 51.7 37.4 45.3 39.9 39.9 C42.4 34.5 45.8 28.3 48.7 25.1 C51.7 21.9 53.6 21.2 57.6 20.7 Z" fill="#58f458" filter="url(#rough3)" opacity="0.5" transform="translate(4.5 5) scale(0.94)"/>
<path d="M57.6 20.7 C61.6 20.2 66.5 19.5 72.4 22.2 C78.3 24.9 88.7 32.0 93.1 36.9 C97.5 41.8 95.6 48.0 99.0 51.7 C102.4 55.4 108.8 58.4 113.7 59.1 C118.6 59.8 124.1 52.9 128.5 56.1 C132.9 59.3 137.8 72.1 140.3 78.3 C142.8 84.5 144.8 87.7 143.3 93.1 C141.8 98.5 135.4 106.4 131.5 110.8 C127.5 115.2 122.6 116.6 119.6 119.6 C116.6 122.5 117.6 128.0 113.7 128.5 C109.8 129.0 100.9 122.1 96.0 122.6 C91.1 123.1 90.1 129.5 84.2 131.5 C78.3 133.5 68.0 135.4 60.6 134.4 C53.2 133.4 45.3 129.4 39.9 125.5 C34.5 121.6 30.6 116.2 28.1 110.8 C25.6 105.4 24.6 99.0 25.1 93.1 C25.6 87.2 29.5 81.2 31.0 75.3 C32.5 69.4 32.5 63.5 34.0 57.6 C35.5 51.7 37.4 45.3 39.9 39.9 C42.4 34.5 45.8 28.3 48.7 25.1 C51.7 21.9 53.6 21.2 57.6 20.7 Z" fill="#a8ffa8" filter="url(#b5)" opacity="0.55" transform="translate(12 12) scale(0.85)"/>
<g filter="url(#b1)" fill="#0a900a"><ellipse cx="62.0" cy="48.7" rx="2.5" ry="2.2" opacity="0.8"/><ellipse cx="81.2" cy="60.0" rx="3.4" ry="3" opacity="0.8"/><ellipse cx="57.6" cy="63.5" rx="2.3" ry="2" opacity="0.8"/><ellipse cx="47.3" cy="66.5" rx="2.3" ry="2" opacity="0.8"/><ellipse cx="50.2" cy="72.4" rx="2.5" ry="2.2" opacity="0.8"/><ellipse cx="73.9" cy="73.0" rx="2.5" ry="2.2" opacity="0.8"/><ellipse cx="66.5" cy="78.3" rx="2.8" ry="2.4" opacity="0.8"/><ellipse cx="85.7" cy="78.9" rx="3.0" ry="2.6" opacity="0.8"/><ellipse cx="91.6" cy="86.6" rx="3.7" ry="3.2" opacity="0.8"/><ellipse cx="106.3" cy="84.2" rx="2.5" ry="2.2" opacity="0.8"/><ellipse cx="112.3" cy="84.8" rx="2.5" ry="2.2" opacity="0.8"/><ellipse cx="59.1" cy="89.5" rx="2.3" ry="2" opacity="0.8"/><ellipse cx="53.2" cy="96.0" rx="3.0" ry="2.6" opacity="0.8"/><ellipse cx="70.9" cy="101.9" rx="3.4" ry="3" opacity="0.8"/><ellipse cx="109.3" cy="97.5" rx="2.5" ry="2.2" opacity="0.8"/><ellipse cx="96.0" cy="103.4" rx="2.8" ry="2.4" opacity="0.8"/><ellipse cx="127.0" cy="93.6" rx="2.3" ry="2" opacity="0.8"/><ellipse cx="35.4" cy="110.8" rx="2.8" ry="2.4" opacity="0.8"/><ellipse cx="81.2" cy="112.3" rx="2.8" ry="2.4" opacity="0.8"/><ellipse cx="51.7" cy="116.1" rx="4.4" ry="3.8" opacity="0.8"/><ellipse cx="87.1" cy="102.5" rx="2.3" ry="2" opacity="0.8"/></g>
<g filter="url(#b1)" fill="#fff"><circle cx="105.8" cy="38.4" r="1.6" opacity="0.95"/><circle cx="148.6" cy="57.0" r="1.4" opacity="0.95"/><circle cx="137.4" cy="96.6" r="2" opacity="0.95"/><circle cx="112.3" cy="125.5" r="1.6" opacity="0.95"/><circle cx="125.5" cy="50.2" r="1.2" opacity="0.95"/></g>
</svg>
<svg x="680.4" y="1138.0" width="157.5" height="156.9" viewBox="0 0 157.5 156.9" overflow="hidden">
<rect width="157.5" height="156.9" fill="#031503"/>
<path d="M59.1 32.5 C61.1 32.5 65.2 37.9 69.4 38.4 C73.6 38.9 79.8 36.1 84.2 35.4 C88.6 34.7 92.3 33.0 96.0 34.0 C99.7 35.0 104.1 37.7 106.3 41.4 C108.5 45.1 107.6 51.7 109.3 56.1 C111.0 60.5 116.0 63.5 116.7 67.9 C117.4 72.3 116.7 79.2 113.7 82.7 C110.8 86.2 102.0 85.1 99.0 88.6 C96.0 92.0 97.0 98.0 96.0 103.4 C95.0 108.8 94.6 117.2 93.1 121.1 C91.6 125.0 89.1 128.0 87.1 127.0 C85.1 126.0 85.1 116.2 81.2 115.2 C77.3 114.2 68.9 119.6 63.5 121.1 C58.1 122.6 52.6 121.6 48.7 124.1 C44.8 126.6 42.9 134.9 39.9 135.9 C36.9 136.9 33.0 133.4 31.0 130.0 C29.0 126.5 29.1 119.6 28.1 115.2 C27.1 110.8 24.1 106.9 25.1 103.4 C26.1 100.0 31.1 98.0 34.0 94.5 C37.0 91.0 40.6 87.1 42.8 82.7 C45.0 78.3 45.6 73.3 47.3 67.9 C49.0 62.5 51.5 55.1 53.2 50.2 C54.9 45.3 56.6 41.4 57.6 38.4 C58.6 35.4 57.1 32.5 59.1 32.5 Z" fill="#0a3a0a" filter="url(#b9)" opacity="0.9" transform="translate(-16 -17) scale(1.22)"/>
<path d="M59.1 32.5 C61.1 32.5 65.2 37.9 69.4 38.4 C73.6 38.9 79.8 36.1 84.2 35.4 C88.6 34.7 92.3 33.0 96.0 34.0 C99.7 35.0 104.1 37.7 106.3 41.4 C108.5 45.1 107.6 51.7 109.3 56.1 C111.0 60.5 116.0 63.5 116.7 67.9 C117.4 72.3 116.7 79.2 113.7 82.7 C110.8 86.2 102.0 85.1 99.0 88.6 C96.0 92.0 97.0 98.0 96.0 103.4 C95.0 108.8 94.6 117.2 93.1 121.1 C91.6 125.0 89.1 128.0 87.1 127.0 C85.1 126.0 85.1 116.2 81.2 115.2 C77.3 114.2 68.9 119.6 63.5 121.1 C58.1 122.6 52.6 121.6 48.7 124.1 C44.8 126.6 42.9 134.9 39.9 135.9 C36.9 136.9 33.0 133.4 31.0 130.0 C29.0 126.5 29.1 119.6 28.1 115.2 C27.1 110.8 24.1 106.9 25.1 103.4 C26.1 100.0 31.1 98.0 34.0 94.5 C37.0 91.0 40.6 87.1 42.8 82.7 C45.0 78.3 45.6 73.3 47.3 67.9 C49.0 62.5 51.5 55.1 53.2 50.2 C54.9 45.3 56.6 41.4 57.6 38.4 C58.6 35.4 57.1 32.5 59.1 32.5 Z" fill="#0c5c0c" filter="url(#rough3)" opacity="0.9" transform="translate(-4 -4) scale(1.05)"/>
<path d="M59.1 32.5 C61.1 32.5 65.2 37.9 69.4 38.4 C73.6 38.9 79.8 36.1 84.2 35.4 C88.6 34.7 92.3 33.0 96.0 34.0 C99.7 35.0 104.1 37.7 106.3 41.4 C108.5 45.1 107.6 51.7 109.3 56.1 C111.0 60.5 116.0 63.5 116.7 67.9 C117.4 72.3 116.7 79.2 113.7 82.7 C110.8 86.2 102.0 85.1 99.0 88.6 C96.0 92.0 97.0 98.0 96.0 103.4 C95.0 108.8 94.6 117.2 93.1 121.1 C91.6 125.0 89.1 128.0 87.1 127.0 C85.1 126.0 85.1 116.2 81.2 115.2 C77.3 114.2 68.9 119.6 63.5 121.1 C58.1 122.6 52.6 121.6 48.7 124.1 C44.8 126.6 42.9 134.9 39.9 135.9 C36.9 136.9 33.0 133.4 31.0 130.0 C29.0 126.5 29.1 119.6 28.1 115.2 C27.1 110.8 24.1 106.9 25.1 103.4 C26.1 100.0 31.1 98.0 34.0 94.5 C37.0 91.0 40.6 87.1 42.8 82.7 C45.0 78.3 45.6 73.3 47.3 67.9 C49.0 62.5 51.5 55.1 53.2 50.2 C54.9 45.3 56.6 41.4 57.6 38.4 C58.6 35.4 57.1 32.5 59.1 32.5 Z" fill="#1ea81e" filter="url(#rough3)" opacity="0.95" transform="translate(4.5 5) scale(0.94)"/>
<path d="M59.1 32.5 C61.1 32.5 65.2 37.9 69.4 38.4 C73.6 38.9 79.8 36.1 84.2 35.4 C88.6 34.7 92.3 33.0 96.0 34.0 C99.7 35.0 104.1 37.7 106.3 41.4 C108.5 45.1 107.6 51.7 109.3 56.1 C111.0 60.5 116.0 63.5 116.7 67.9 C117.4 72.3 116.7 79.2 113.7 82.7 C110.8 86.2 102.0 85.1 99.0 88.6 C96.0 92.0 97.0 98.0 96.0 103.4 C95.0 108.8 94.6 117.2 93.1 121.1 C91.6 125.0 89.1 128.0 87.1 127.0 C85.1 126.0 85.1 116.2 81.2 115.2 C77.3 114.2 68.9 119.6 63.5 121.1 C58.1 122.6 52.6 121.6 48.7 124.1 C44.8 126.6 42.9 134.9 39.9 135.9 C36.9 136.9 33.0 133.4 31.0 130.0 C29.0 126.5 29.1 119.6 28.1 115.2 C27.1 110.8 24.1 106.9 25.1 103.4 C26.1 100.0 31.1 98.0 34.0 94.5 C37.0 91.0 40.6 87.1 42.8 82.7 C45.0 78.3 45.6 73.3 47.3 67.9 C49.0 62.5 51.5 55.1 53.2 50.2 C54.9 45.3 56.6 41.4 57.6 38.4 C58.6 35.4 57.1 32.5 59.1 32.5 Z" fill="#2cc42c" filter="url(#b5)" opacity="0.5" transform="translate(20 20) scale(0.75)"/>
<rect width="157.5" height="156.9" filter="url(#ngtex)" opacity="0.5" style="mix-blend-mode:multiply"/>
<g filter="url(#b1)" fill="#66ff66"><circle cx="73.9" cy="44.3" r="2.3" opacity="0.45"/><circle cx="84.2" cy="59.1" r="2.3" opacity="0.45"/><circle cx="103.4" cy="53.2" r="2.3" opacity="0.45"/><circle cx="99.0" cy="65.0" r="2.3" opacity="0.45"/><circle cx="63.5" cy="67.9" r="2.3" opacity="0.45"/><circle cx="44.3" cy="99.0" r="2.3" opacity="0.45"/><circle cx="50.2" cy="116.7" r="2.3" opacity="0.45"/><circle cx="34.0" cy="124.1" r="2.3" opacity="0.45"/><circle cx="90.1" cy="115.2" r="2.3" opacity="0.45"/><circle cx="78.3" cy="79.8" r="2.3" opacity="0.45"/></g>
</svg>
<svg x="841.4" y="1138.0" width="156.0" height="156.9" viewBox="0 0 156.0 156.9" overflow="hidden">
<rect x="0" y="0" width="216.0" height="206.9" transform="translate(-47 -41)" filter="url(#ngray2)"/>
<rect width="156.0" height="156.9" fill="url(#vband)" opacity="0.5"/>
<path d="M59.1 32.5 C61.1 32.5 65.2 37.9 69.4 38.4 C73.6 38.9 79.8 36.1 84.2 35.4 C88.6 34.7 92.3 33.0 96.0 34.0 C99.7 35.0 104.1 37.7 106.3 41.4 C108.5 45.1 107.6 51.7 109.3 56.1 C111.0 60.5 116.0 63.5 116.7 67.9 C117.4 72.3 116.7 79.2 113.7 82.7 C110.8 86.2 102.0 85.1 99.0 88.6 C96.0 92.0 97.0 98.0 96.0 103.4 C95.0 108.8 94.6 117.2 93.1 121.1 C91.6 125.0 89.1 128.0 87.1 127.0 C85.1 126.0 85.1 116.2 81.2 115.2 C77.3 114.2 68.9 119.6 63.5 121.1 C58.1 122.6 52.6 121.6 48.7 124.1 C44.8 126.6 42.9 134.9 39.9 135.9 C36.9 136.9 33.0 133.4 31.0 130.0 C29.0 126.5 29.1 119.6 28.1 115.2 C27.1 110.8 24.1 106.9 25.1 103.4 C26.1 100.0 31.1 98.0 34.0 94.5 C37.0 91.0 40.6 87.1 42.8 82.7 C45.0 78.3 45.6 73.3 47.3 67.9 C49.0 62.5 51.5 55.1 53.2 50.2 C54.9 45.3 56.6 41.4 57.6 38.4 C58.6 35.4 57.1 32.5 59.1 32.5 Z" fill="#d0d0d0" filter="url(#b9)" opacity="0.35"/>
<g filter="url(#b1)" fill="#0a0a0a"><ellipse cx="72.4" cy="47.3" rx="2.8" ry="2.4" opacity="0.88"/><ellipse cx="62.0" cy="51.7" rx="2.8" ry="2.4" opacity="0.88"/><ellipse cx="54.6" cy="59.1" rx="2.5" ry="2.2" opacity="0.88"/><ellipse cx="76.8" cy="66.5" rx="6.0" ry="5.2" opacity="0.88"/><ellipse cx="101.9" cy="57.6" rx="2.8" ry="2.4" opacity="0.88"/><ellipse cx="100.4" cy="75.3" rx="3.2" ry="2.8" opacity="0.88"/><ellipse cx="66.5" cy="84.2" rx="5.8" ry="5" opacity="0.88"/><ellipse cx="70.9" cy="91.6" rx="3.4" ry="3" opacity="0.88"/><ellipse cx="35.4" cy="99.8" rx="3.0" ry="2.6" opacity="0.88"/><ellipse cx="44.3" cy="100.4" rx="3.0" ry="2.6" opacity="0.88"/><ellipse cx="51.7" cy="103.4" rx="4.1" ry="3.6" opacity="0.88"/><ellipse cx="78.3" cy="109.3" rx="3.4" ry="3" opacity="0.88"/><ellipse cx="57.6" cy="112.3" rx="2.5" ry="2.2" opacity="0.88"/><ellipse cx="90.1" cy="67.9" rx="2.3" ry="2" opacity="0.88"/></g>
<g filter="url(#b1)" fill="#fff"><circle cx="138.8" cy="84.2" r="2.2" opacity="0.95"/><circle cx="106.3" cy="109.9" r="3.6" opacity="0.95"/><circle cx="44.3" cy="106.3" r="2.6" opacity="0.95"/></g>
</svg>
<svg x="1000.9" y="1138.0" width="158.1" height="156.9" viewBox="0 0 158.1 156.9" overflow="hidden">
<rect x="0" y="0" width="218.1" height="206.9" transform="translate(-47 -41)" filter="url(#ngray2)"/>
<rect width="158.1" height="156.9" fill="url(#vband)" opacity="0.5"/>
<path d="M59.1 32.5 C61.1 32.5 65.2 37.9 69.4 38.4 C73.6 38.9 79.8 36.1 84.2 35.4 C88.6 34.7 92.3 33.0 96.0 34.0 C99.7 35.0 104.1 37.7 106.3 41.4 C108.5 45.1 107.6 51.7 109.3 56.1 C111.0 60.5 116.0 63.5 116.7 67.9 C117.4 72.3 116.7 79.2 113.7 82.7 C110.8 86.2 102.0 85.1 99.0 88.6 C96.0 92.0 97.0 98.0 96.0 103.4 C95.0 108.8 94.6 117.2 93.1 121.1 C91.6 125.0 89.1 128.0 87.1 127.0 C85.1 126.0 85.1 116.2 81.2 115.2 C77.3 114.2 68.9 119.6 63.5 121.1 C58.1 122.6 52.6 121.6 48.7 124.1 C44.8 126.6 42.9 134.9 39.9 135.9 C36.9 136.9 33.0 133.4 31.0 130.0 C29.0 126.5 29.1 119.6 28.1 115.2 C27.1 110.8 24.1 106.9 25.1 103.4 C26.1 100.0 31.1 98.0 34.0 94.5 C37.0 91.0 40.6 87.1 42.8 82.7 C45.0 78.3 45.6 73.3 47.3 67.9 C49.0 62.5 51.5 55.1 53.2 50.2 C54.9 45.3 56.6 41.4 57.6 38.4 C58.6 35.4 57.1 32.5 59.1 32.5 Z" fill="#58f458" filter="url(#rough3)" opacity="0.5" transform="translate(4.5 5) scale(0.94)"/>
<path d="M59.1 32.5 C61.1 32.5 65.2 37.9 69.4 38.4 C73.6 38.9 79.8 36.1 84.2 35.4 C88.6 34.7 92.3 33.0 96.0 34.0 C99.7 35.0 104.1 37.7 106.3 41.4 C108.5 45.1 107.6 51.7 109.3 56.1 C111.0 60.5 116.0 63.5 116.7 67.9 C117.4 72.3 116.7 79.2 113.7 82.7 C110.8 86.2 102.0 85.1 99.0 88.6 C96.0 92.0 97.0 98.0 96.0 103.4 C95.0 108.8 94.6 117.2 93.1 121.1 C91.6 125.0 89.1 128.0 87.1 127.0 C85.1 126.0 85.1 116.2 81.2 115.2 C77.3 114.2 68.9 119.6 63.5 121.1 C58.1 122.6 52.6 121.6 48.7 124.1 C44.8 126.6 42.9 134.9 39.9 135.9 C36.9 136.9 33.0 133.4 31.0 130.0 C29.0 126.5 29.1 119.6 28.1 115.2 C27.1 110.8 24.1 106.9 25.1 103.4 C26.1 100.0 31.1 98.0 34.0 94.5 C37.0 91.0 40.6 87.1 42.8 82.7 C45.0 78.3 45.6 73.3 47.3 67.9 C49.0 62.5 51.5 55.1 53.2 50.2 C54.9 45.3 56.6 41.4 57.6 38.4 C58.6 35.4 57.1 32.5 59.1 32.5 Z" fill="#a8ffa8" filter="url(#b5)" opacity="0.55" transform="translate(12 12) scale(0.85)"/>
<g filter="url(#b1)" fill="#0a900a"><ellipse cx="72.4" cy="47.3" rx="2.8" ry="2.4" opacity="0.8"/><ellipse cx="62.0" cy="51.7" rx="2.8" ry="2.4" opacity="0.8"/><ellipse cx="54.6" cy="59.1" rx="2.5" ry="2.2" opacity="0.8"/><ellipse cx="76.8" cy="66.5" rx="6.0" ry="5.2" opacity="0.8"/><ellipse cx="101.9" cy="57.6" rx="2.8" ry="2.4" opacity="0.8"/><ellipse cx="100.4" cy="75.3" rx="3.2" ry="2.8" opacity="0.8"/><ellipse cx="66.5" cy="84.2" rx="5.8" ry="5" opacity="0.8"/><ellipse cx="70.9" cy="91.6" rx="3.4" ry="3" opacity="0.8"/><ellipse cx="35.4" cy="99.8" rx="3.0" ry="2.6" opacity="0.8"/><ellipse cx="44.3" cy="100.4" rx="3.0" ry="2.6" opacity="0.8"/><ellipse cx="51.7" cy="103.4" rx="4.1" ry="3.6" opacity="0.8"/><ellipse cx="78.3" cy="109.3" rx="3.4" ry="3" opacity="0.8"/><ellipse cx="57.6" cy="112.3" rx="2.5" ry="2.2" opacity="0.8"/><ellipse cx="90.1" cy="67.9" rx="2.3" ry="2" opacity="0.8"/></g>
<g filter="url(#b1)" fill="#fff"><circle cx="138.8" cy="84.2" r="2.2" opacity="0.95"/><circle cx="106.3" cy="109.9" r="3.6" opacity="0.95"/><circle cx="44.3" cy="106.3" r="2.6" opacity="0.95"/></g>
</svg>
<rect x="1093.1" y="1119.0" width="48.0" height="3.8" fill="#000" />
<text font-size="19.5" text-anchor="middle" stroke="#000" stroke-width="0.35" x="1116" y="1114.3">5 µm</text>
<rect x="1093.1" y="1278.0" width="48.0" height="3.8" fill="#000" />
<text font-size="19.5" text-anchor="middle" stroke="#000" stroke-width="0.35" x="1116" y="1273.2">5 µm</text>
</g>
<g id="violin">
<path d="M1422.1 978.0 C1422.0 982.3 1422.0 999.0 1421.7 1004.2 C1421.3 1009.4 1419.9 1007.3 1419.8 1009.2 C1419.8 1011.1 1421.2 1012.2 1421.4 1015.5 C1421.7 1018.9 1421.7 1025.4 1421.4 1029.2 C1421.2 1033.0 1420.6 1033.0 1420.1 1038.3 C1419.5 1043.6 1419.0 1054.2 1418.2 1061.1 C1417.5 1067.9 1415.8 1074.7 1415.5 1079.3 C1415.2 1083.8 1416.6 1085.4 1416.4 1088.4 C1416.3 1091.4 1415.4 1094.5 1414.6 1097.5 C1413.8 1100.5 1413.1 1103.2 1411.4 1106.6 C1409.7 1110.0 1406.4 1114.2 1404.6 1118.0 C1402.8 1121.8 1401.4 1126.0 1400.5 1129.4 C1399.5 1132.8 1400.0 1135.8 1398.9 1138.5 C1397.8 1141.1 1395.1 1143.0 1394.1 1145.3 C1393.2 1147.6 1393.0 1149.9 1393.2 1152.1 C1393.4 1154.4 1393.5 1156.3 1395.0 1159.0 C1396.5 1161.6 1400.0 1165.4 1402.3 1168.1 C1404.7 1170.7 1406.7 1171.9 1409.1 1174.9 C1411.6 1178.0 1414.9 1182.9 1417.1 1186.3 C1419.3 1189.7 1421.1 1193.9 1422.1 1195.4 C1423.2 1196.9 1422.4 1196.9 1423.5 1195.4 C1424.5 1193.9 1426.3 1189.7 1428.5 1186.3 C1430.7 1182.9 1434.0 1178.0 1436.5 1174.9 C1438.9 1171.9 1440.9 1170.7 1443.3 1168.1 C1445.6 1165.4 1449.1 1161.6 1450.6 1159.0 C1452.1 1156.3 1452.2 1154.4 1452.4 1152.1 C1452.6 1149.9 1452.4 1147.6 1451.5 1145.3 C1450.5 1143.0 1447.8 1141.1 1446.7 1138.5 C1445.6 1135.8 1446.1 1132.8 1445.1 1129.4 C1444.2 1126.0 1442.8 1121.8 1441.0 1118.0 C1439.2 1114.2 1435.9 1110.0 1434.2 1106.6 C1432.5 1103.2 1431.8 1100.5 1431.0 1097.5 C1430.2 1094.5 1429.3 1091.4 1429.2 1088.4 C1429.0 1085.4 1430.4 1083.8 1430.1 1079.3 C1429.8 1074.7 1428.1 1067.9 1427.4 1061.1 C1426.6 1054.2 1426.1 1043.6 1425.5 1038.3 C1425.0 1033.0 1424.4 1033.0 1424.2 1029.2 C1423.9 1025.4 1423.9 1018.9 1424.2 1015.5 C1424.4 1012.2 1425.8 1011.1 1425.8 1009.2 C1425.7 1007.3 1424.3 1009.4 1423.9 1004.2 C1423.6 999.0 1423.6 982.3 1423.5 978.0" fill="none" stroke="#000" stroke-width="2.5" stroke-linejoin="round"/><line x1="1422.8" y1="1195.4" x2="1422.8" y2="1251.2" stroke="#000" stroke-width="2.5"/>
<path d="M1513.6 978.0 C1513.5 981.2 1513.2 993.0 1512.9 997.3 C1512.7 1001.7 1512.3 1001.1 1512.0 1004.2 C1511.7 1007.2 1511.5 1009.8 1511.1 1015.5 C1510.7 1021.2 1510.3 1030.7 1509.7 1038.3 C1509.2 1045.9 1508.8 1053.5 1507.9 1061.1 C1507.1 1068.7 1505.5 1077.8 1504.7 1083.8 C1504.0 1089.9 1504.1 1093.7 1503.4 1097.5 C1502.7 1101.3 1501.2 1103.2 1500.6 1106.6 C1500.1 1110.0 1500.4 1114.2 1500.2 1118.0 C1500.0 1121.8 1499.3 1126.3 1499.3 1129.4 C1499.3 1132.4 1500.7 1133.9 1500.2 1136.2 C1499.7 1138.5 1497.7 1140.4 1496.1 1143.0 C1494.5 1145.7 1492.0 1149.5 1490.4 1152.1 C1488.8 1154.8 1487.2 1156.7 1486.5 1159.0 C1485.8 1161.3 1486.3 1163.2 1486.1 1165.8 C1485.8 1168.5 1485.4 1172.5 1485.2 1174.9 C1484.9 1177.4 1484.0 1178.7 1484.7 1180.6 C1485.4 1182.5 1487.4 1184.2 1489.3 1186.3 C1491.2 1188.4 1493.6 1190.5 1496.1 1193.1 C1498.6 1195.8 1501.9 1199.2 1504.1 1202.2 C1506.3 1205.3 1507.9 1208.3 1509.3 1211.3 C1510.7 1214.4 1511.7 1217.6 1512.5 1220.5 C1513.2 1223.3 1513.5 1227.1 1513.8 1228.4 C1514.2 1229.8 1514.4 1229.8 1514.8 1228.4 C1515.1 1227.1 1515.4 1223.3 1516.1 1220.5 C1516.9 1217.6 1517.9 1214.4 1519.3 1211.3 C1520.7 1208.3 1522.3 1205.3 1524.5 1202.2 C1526.7 1199.2 1530.0 1195.8 1532.5 1193.1 C1535.0 1190.5 1537.4 1188.4 1539.3 1186.3 C1541.2 1184.2 1543.2 1182.5 1543.9 1180.6 C1544.6 1178.7 1543.7 1177.4 1543.4 1174.9 C1543.2 1172.5 1542.8 1168.5 1542.5 1165.8 C1542.3 1163.2 1542.8 1161.3 1542.1 1159.0 C1541.4 1156.7 1539.8 1154.8 1538.2 1152.1 C1536.6 1149.5 1534.1 1145.7 1532.5 1143.0 C1530.9 1140.4 1528.9 1138.5 1528.4 1136.2 C1527.9 1133.9 1529.3 1132.4 1529.3 1129.4 C1529.3 1126.3 1528.6 1121.8 1528.4 1118.0 C1528.2 1114.2 1528.5 1110.0 1528.0 1106.6 C1527.4 1103.2 1525.9 1101.3 1525.2 1097.5 C1524.5 1093.7 1524.6 1089.9 1523.9 1083.8 C1523.1 1077.8 1521.5 1068.7 1520.7 1061.1 C1519.8 1053.5 1519.4 1045.9 1518.9 1038.3 C1518.3 1030.7 1517.9 1021.2 1517.5 1015.5 C1517.1 1009.8 1516.9 1007.2 1516.6 1004.2 C1516.3 1001.1 1515.9 1001.7 1515.7 997.3 C1515.4 993.0 1515.1 981.2 1515.0 978.0" fill="none" stroke="#000" stroke-width="2.5" stroke-linejoin="round"/><line x1="1514.3" y1="1228.4" x2="1514.3" y2="1245.5" stroke="#000" stroke-width="2.5"/>
<line x1="1400.5" y1="1138.0" x2="1445.2" y2="1138.0" stroke="#12a812" stroke-width="2.4" />
<line x1="1491.6" y1="1152.8" x2="1536.7" y2="1152.8" stroke="#12a812" stroke-width="2.4" />
<line x1="1417.2" y1="1105.0" x2="1430.1" y2="1105.0" stroke="#000" stroke-width="1.3" stroke-dasharray="1.3 2.8"/>
<line x1="1393.3" y1="1156.2" x2="1450.6" y2="1156.2" stroke="#000" stroke-width="1.3" stroke-dasharray="1.3 2.8"/>
<line x1="1506.0" y1="1115.3" x2="1523.5" y2="1115.3" stroke="#000" stroke-width="1.3" stroke-dasharray="1.3 2.8"/>
<line x1="1486.6" y1="1176.1" x2="1541.7" y2="1176.1" stroke="#000" stroke-width="1.3" stroke-dasharray="1.3 2.8"/>
<rect x="1362.4" y="977.7" width="212.7" height="303.8" fill="none" stroke="#000" stroke-width="2.5"/>
<line x1="1350.0" y1="1281.5" x2="1362.4" y2="1281.5" stroke="#000" stroke-width="2.5" />
<text font-size="22" text-anchor="end" stroke="#000" stroke-width="0.35" x="1343.6" y="1288.7">0.0</text>
<line x1="1350.0" y1="1230.9" x2="1362.4" y2="1230.9" stroke="#000" stroke-width="2.5" />
<text font-size="22" text-anchor="end" stroke="#000" stroke-width="0.35" x="1343.6" y="1238.1">0.5</text>
<line x1="1350.0" y1="1180.2" x2="1362.4" y2="1180.2" stroke="#000" stroke-width="2.5" />
<text font-size="22" text-anchor="end" stroke="#000" stroke-width="0.35" x="1343.6" y="1187.4">1.0</text>
<line x1="1350.0" y1="1129.6" x2="1362.4" y2="1129.6" stroke="#000" stroke-width="2.5" />
<text font-size="22" text-anchor="end" stroke="#000" stroke-width="0.35" x="1343.6" y="1136.8">1.5</text>
<line x1="1350.0" y1="1079.0" x2="1362.4" y2="1079.0" stroke="#000" stroke-width="2.5" />
<text font-size="22" text-anchor="end" stroke="#000" stroke-width="0.35" x="1343.6" y="1086.2">2.0</text>
<line x1="1350.0" y1="1028.3" x2="1362.4" y2="1028.3" stroke="#000" stroke-width="2.5" />
<text font-size="22" text-anchor="end" stroke="#000" stroke-width="0.35" x="1343.6" y="1035.5">2.5</text>
<line x1="1350.0" y1="977.7" x2="1362.4" y2="977.7" stroke="#000" stroke-width="2.5" />
<text font-size="22" text-anchor="end" stroke="#000" stroke-width="0.35" x="1343.6" y="984.9">3.0</text>
<line x1="1422.8" y1="1281.5" x2="1422.8" y2="1294.7" stroke="#000" stroke-width="2.5" />
<text font-size="27.5" text-anchor="end" stroke="#000" stroke-width="0.35" transform="translate(1436.8 1314.5) rotate(-45)">CD2WT</text>
<line x1="1514.3" y1="1281.5" x2="1514.3" y2="1294.7" stroke="#000" stroke-width="2.5" />
<text font-size="27.5" text-anchor="end" stroke="#000" stroke-width="0.35" transform="translate(1528.3 1314.5) rotate(-45)">CD2ΔCYT</text>
<text font-size="28.2" text-anchor="middle" stroke="#000" stroke-width="0.35" transform="translate(1249.5 1135.5) rotate(-90)">Enrichment of Lck-Halo</text>
<text font-size="28.2" text-anchor="middle" stroke="#000" stroke-width="0.35" transform="translate(1284 1135.5) rotate(-90)">at a close contact</text>
<text font-size="21" text-anchor="middle" stroke="#000" stroke-width="0.35" x="1468.5" y="1058.2">&lt;0.0001</text>
<line x1="1437.2" y1="1067.4" x2="1500.7" y2="1067.4" stroke="#000" stroke-width="2.3" />
</g>
</svg>
</body></html>
